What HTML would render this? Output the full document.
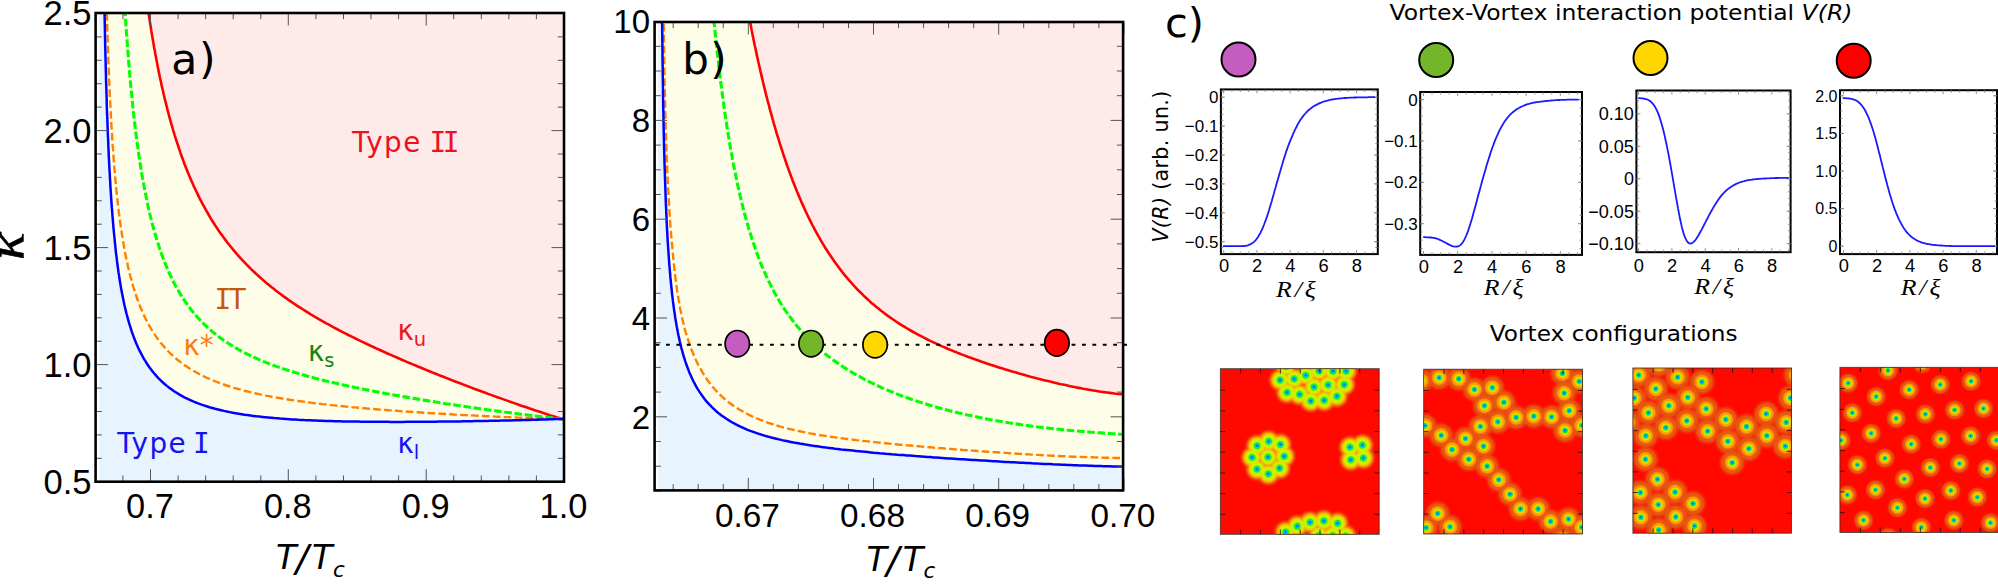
<!DOCTYPE html>
<html><head><meta charset="utf-8"><title>Phase diagram</title>
<style>
html,body{margin:0;padding:0;background:#fff;}
svg{display:block}
.ar{font-family:"Liberation Sans",sans-serif;}
.vd{font-family:"DejaVu Sans","Liberation Sans",sans-serif;}
.mn{font-family:"DejaVu Sans Mono","Liberation Mono",monospace;}
.sr{font-family:"Liberation Serif","DejaVu Serif",serif;font-style:italic;}
</style></head><body>
<svg width="1998" height="585" viewBox="0 0 1998 585">
<rect width="1998" height="585" fill="#fff"/>

<clipPath id="clipa"><rect x="95.6" y="13.0" width="468.4" height="468.7"/></clipPath>
<g clip-path="url(#clipa)">
<rect x="95.6" y="13.0" width="468.4" height="468.7" fill="#fefee8"/>
<path d="M103.3 -73.9 L103.3 -71.0 L103.4 -68.0 L103.4 -65.0 L103.4 -62.0 L103.5 -59.0 L103.5 -56.0 L103.6 -53.0 L103.6 -50.0 L103.6 -47.0 L103.7 -44.0 L103.7 -41.0 L103.8 -38.0 L103.8 -35.0 L103.8 -32.0 L103.9 -29.0 L103.9 -26.0 L104.0 -23.0 L104.0 -20.0 L104.1 -17.1 L104.1 -14.1 L104.2 -11.1 L104.2 -8.1 L104.3 -5.1 L104.3 -2.1 L104.4 0.9 L104.4 3.9 L104.5 6.9 L104.5 9.9 L104.6 12.9 L104.6 15.9 L104.7 18.9 L104.7 21.9 L104.8 24.9 L104.9 27.9 L104.9 30.9 L105.0 33.8 L105.0 36.8 L105.1 39.8 L105.2 42.8 L105.2 45.8 L105.3 48.8 L105.4 51.8 L105.4 54.8 L105.5 57.8 L105.6 60.8 L105.7 63.8 L105.7 66.8 L105.8 69.8 L105.9 72.8 L106.0 75.8 L106.0 78.8 L106.1 81.7 L106.2 84.7 L106.3 87.7 L106.4 90.7 L106.5 93.7 L106.6 96.7 L106.7 99.7 L106.7 102.7 L106.8 105.7 L106.9 108.7 L107.0 111.7 L107.1 114.7 L107.3 117.7 L107.4 120.7 L107.5 123.6 L107.6 126.6 L107.7 129.6 L107.8 132.6 L107.9 135.6 L108.1 138.6 L108.2 141.6 L108.3 144.6 L108.4 147.6 L108.6 150.6 L108.7 153.6 L108.8 156.6 L109.0 159.6 L109.1 162.5 L109.3 165.5 L109.4 168.5 L109.6 171.5 L109.8 174.5 L109.9 177.5 L110.1 180.5 L110.3 183.5 L110.4 186.5 L110.6 189.5 L110.8 192.4 L111.0 195.4 L111.2 198.4 L111.4 201.4 L111.6 204.4 L111.8 207.4 L112.1 210.4 L112.3 213.4 L112.5 216.3 L112.8 219.3 L113.0 222.3 L113.3 225.3 L113.5 228.3 L113.8 231.3 L114.1 234.2 L114.4 237.2 L114.7 240.2 L115.0 243.2 L115.3 246.2 L115.6 249.1 L115.9 252.1 L116.3 255.1 L116.7 258.1 L117.0 261.0 L117.4 264.0 L117.8 267.0 L118.2 269.9 L118.6 272.9 L119.1 275.9 L119.5 278.8 L120.0 281.8 L120.5 284.7 L121.0 287.7 L121.5 290.6 L122.1 293.6 L122.7 296.5 L123.3 299.4 L123.9 302.4 L124.5 305.3 L125.2 308.2 L125.9 311.1 L126.6 314.0 L127.4 316.9 L128.2 319.8 L129.0 322.7 L129.9 325.6 L130.8 328.4 L131.7 331.3 L132.7 334.1 L133.7 336.9 L134.8 339.7 L135.9 342.5 L137.1 345.2 L138.3 348.0 L139.6 350.7 L141.0 353.3 L142.4 356.0 L143.8 358.6 L145.4 361.2 L147.0 363.7 L148.7 366.2 L150.4 368.6 L152.2 371.0 L154.1 373.3 L156.1 375.6 L158.1 377.8 L160.2 379.9 L162.4 382.0 L164.6 384.0 L166.9 385.9 L169.2 387.7 L171.7 389.5 L174.1 391.2 L176.6 392.8 L179.2 394.4 L181.8 395.9 L184.4 397.3 L187.1 398.6 L189.8 399.9 L192.6 401.1 L195.3 402.3 L198.1 403.3 L200.9 404.4 L203.8 405.4 L206.6 406.3 L209.5 407.2 L212.4 408.0 L215.2 408.8 L218.1 409.5 L221.1 410.2 L224.0 410.9 L226.9 411.5 L229.8 412.1 L232.8 412.7 L235.7 413.2 L238.7 413.7 L241.6 414.2 L244.6 414.7 L247.6 415.1 L250.5 415.5 L253.5 415.9 L256.5 416.3 L259.4 416.6 L262.4 416.9 L265.4 417.2 L268.4 417.5 L271.3 417.8 L274.3 418.1 L277.3 418.3 L280.3 418.6 L283.3 418.8 L286.3 419.0 L289.3 419.2 L292.3 419.4 L295.2 419.6 L298.2 419.8 L301.2 419.9 L304.2 420.1 L307.2 420.2 L310.2 420.3 L313.2 420.5 L316.2 420.6 L319.2 420.7 L322.2 420.8 L325.2 420.9 L328.1 421.0 L331.1 421.1 L334.1 421.2 L337.1 421.2 L340.1 421.3 L343.1 421.4 L346.1 421.4 L349.1 421.5 L352.1 421.5 L355.1 421.6 L358.1 421.6 L361.1 421.7 L364.1 421.7 L367.1 421.7 L370.1 421.8 L373.1 421.8 L376.1 421.8 L379.0 421.8 L382.0 421.8 L385.0 421.8 L388.0 421.8 L391.0 421.9 L394.0 421.9 L397.0 421.9 L400.0 421.9 L403.0 421.9 L406.0 421.8 L409.0 421.8 L412.0 421.8 L415.0 421.8 L418.0 421.8 L421.0 421.8 L424.0 421.8 L427.0 421.7 L430.0 421.7 L433.0 421.7 L435.9 421.7 L438.9 421.6 L441.9 421.6 L444.9 421.6 L447.9 421.5 L450.9 421.5 L453.9 421.4 L456.9 421.4 L459.9 421.4 L462.9 421.3 L465.9 421.3 L468.9 421.2 L471.9 421.2 L474.9 421.1 L477.9 421.1 L480.9 421.0 L483.9 421.0 L486.8 420.9 L489.8 420.8 L492.8 420.8 L495.8 420.7 L498.8 420.7 L501.8 420.6 L504.8 420.5 L507.8 420.4 L510.8 420.4 L513.8 420.3 L516.8 420.2 L519.8 420.2 L522.8 420.1 L525.8 420.0 L528.8 419.9 L531.8 419.8 L534.7 419.7 L537.7 419.7 L540.7 419.6 L543.7 419.5 L546.7 419.4 L549.7 419.3 L552.7 419.2 L555.7 419.1 L558.7 419.0 L561.7 418.9 L564.7 418.8 L569.0 418.8 L569.0 486.7 L90.6 486.7 L90.6 -47.0 L103.3 -47.0 Z" fill="#e7f3fd"/>
<path d="M138.1 -73.9 L138.4 -70.9 L138.7 -67.9 L139.0 -64.9 L139.3 -61.9 L139.6 -59.0 L139.9 -56.0 L140.2 -53.0 L140.6 -50.0 L140.9 -47.0 L141.2 -44.1 L141.6 -41.1 L141.9 -38.1 L142.3 -35.1 L142.6 -32.2 L143.0 -29.2 L143.3 -26.2 L143.7 -23.2 L144.1 -20.3 L144.4 -17.3 L144.8 -14.3 L145.2 -11.3 L145.6 -8.4 L146.0 -5.4 L146.4 -2.4 L146.8 0.5 L147.2 3.5 L147.6 6.5 L148.1 9.4 L148.5 12.4 L148.9 15.4 L149.4 18.3 L149.8 21.3 L150.3 24.2 L150.8 27.2 L151.2 30.2 L151.7 33.1 L152.2 36.1 L152.7 39.0 L153.2 42.0 L153.7 44.9 L154.2 47.9 L154.8 50.8 L155.3 53.8 L155.9 56.7 L156.4 59.7 L157.0 62.6 L157.5 65.5 L158.1 68.5 L158.7 71.4 L159.3 74.4 L159.9 77.3 L160.6 80.2 L161.2 83.1 L161.8 86.1 L162.5 89.0 L163.2 91.9 L163.8 94.8 L164.5 97.7 L165.2 100.7 L166.0 103.6 L166.7 106.5 L167.4 109.4 L168.2 112.3 L168.9 115.2 L169.7 118.1 L170.5 120.9 L171.3 123.8 L172.2 126.7 L173.0 129.6 L173.9 132.5 L174.7 135.3 L175.6 138.2 L176.5 141.0 L177.5 143.9 L178.4 146.7 L179.4 149.6 L180.3 152.4 L181.3 155.2 L182.3 158.0 L183.4 160.9 L184.4 163.7 L185.5 166.5 L186.6 169.2 L187.7 172.0 L188.9 174.8 L190.0 177.6 L191.2 180.3 L192.4 183.1 L193.6 185.8 L194.9 188.5 L196.2 191.2 L197.5 193.9 L198.8 196.6 L200.1 199.3 L201.5 201.9 L202.9 204.6 L204.4 207.2 L205.8 209.8 L207.3 212.4 L208.8 215.0 L210.3 217.6 L211.9 220.2 L213.5 222.7 L215.1 225.2 L216.8 227.7 L218.4 230.2 L220.1 232.7 L221.9 235.1 L223.6 237.5 L225.4 239.9 L227.2 242.3 L229.1 244.7 L231.0 247.0 L232.9 249.3 L234.8 251.6 L236.7 253.9 L238.7 256.1 L240.7 258.4 L242.8 260.6 L244.8 262.7 L246.9 264.9 L249.0 267.0 L251.1 269.1 L253.3 271.2 L255.5 273.3 L257.7 275.3 L259.9 277.3 L262.1 279.3 L264.4 281.2 L266.7 283.2 L269.0 285.1 L271.3 287.0 L273.7 288.8 L276.0 290.7 L278.4 292.5 L280.8 294.3 L283.2 296.1 L285.7 297.8 L288.1 299.6 L290.6 301.3 L293.0 303.0 L295.5 304.6 L298.0 306.3 L300.5 307.9 L303.1 309.5 L305.6 311.1 L308.1 312.7 L310.7 314.3 L313.3 315.8 L315.8 317.3 L318.4 318.8 L321.0 320.3 L323.6 321.8 L326.2 323.3 L328.9 324.7 L331.5 326.2 L334.1 327.6 L336.8 329.0 L339.4 330.4 L342.1 331.8 L344.7 333.1 L347.4 334.5 L350.1 335.8 L352.8 337.2 L355.5 338.5 L358.2 339.8 L360.8 341.1 L363.5 342.4 L366.3 343.7 L369.0 345.0 L371.7 346.3 L374.4 347.5 L377.1 348.8 L379.8 350.0 L382.6 351.3 L385.3 352.5 L388.0 353.7 L390.8 354.9 L393.5 356.1 L396.3 357.3 L399.0 358.5 L401.8 359.7 L404.5 360.9 L407.3 362.1 L410.0 363.2 L412.8 364.4 L415.6 365.5 L418.3 366.7 L421.1 367.8 L423.9 369.0 L426.6 370.1 L429.4 371.2 L432.2 372.4 L435.0 373.5 L437.7 374.6 L440.5 375.7 L443.3 376.8 L446.1 377.9 L448.9 379.0 L451.7 380.1 L454.5 381.2 L457.3 382.3 L460.1 383.3 L462.9 384.4 L465.7 385.5 L468.5 386.5 L471.3 387.6 L474.1 388.7 L476.9 389.7 L479.7 390.7 L482.5 391.8 L485.3 392.8 L488.1 393.9 L490.9 394.9 L493.7 395.9 L496.6 396.9 L499.4 397.9 L502.2 398.9 L505.0 399.9 L507.8 400.9 L510.7 401.9 L513.5 402.9 L516.3 403.9 L519.2 404.9 L522.0 405.9 L524.8 406.8 L527.7 407.8 L530.5 408.8 L533.3 409.7 L536.2 410.7 L539.0 411.6 L541.9 412.6 L544.7 413.5 L547.6 414.4 L550.4 415.4 L553.3 416.3 L556.1 417.2 L559.0 418.1 L561.8 419.0 L564.7 419.9 L569.0 419.9 L569.0 -47.0 L138.1 -47.0 Z" fill="#ffeaea"/>
<rect x="95.6" y="13.0" width="3.7" height="468.7" fill="#fff"/>
<path d="M138.1 -73.9 L138.4 -70.9 L138.7 -67.9 L139.0 -64.9 L139.3 -61.9 L139.6 -59.0 L139.9 -56.0 L140.2 -53.0 L140.6 -50.0 L140.9 -47.0 L141.2 -44.1 L141.6 -41.1 L141.9 -38.1 L142.3 -35.1 L142.6 -32.2 L143.0 -29.2 L143.3 -26.2 L143.7 -23.2 L144.1 -20.3 L144.4 -17.3 L144.8 -14.3 L145.2 -11.3 L145.6 -8.4 L146.0 -5.4 L146.4 -2.4 L146.8 0.5 L147.2 3.5 L147.6 6.5 L148.1 9.4 L148.5 12.4 L148.9 15.4 L149.4 18.3 L149.8 21.3 L150.3 24.2 L150.8 27.2 L151.2 30.2 L151.7 33.1 L152.2 36.1 L152.7 39.0 L153.2 42.0 L153.7 44.9 L154.2 47.9 L154.8 50.8 L155.3 53.8 L155.9 56.7 L156.4 59.7 L157.0 62.6 L157.5 65.5 L158.1 68.5 L158.7 71.4 L159.3 74.4 L159.9 77.3 L160.6 80.2 L161.2 83.1 L161.8 86.1 L162.5 89.0 L163.2 91.9 L163.8 94.8 L164.5 97.7 L165.2 100.7 L166.0 103.6 L166.7 106.5 L167.4 109.4 L168.2 112.3 L168.9 115.2 L169.7 118.1 L170.5 120.9 L171.3 123.8 L172.2 126.7 L173.0 129.6 L173.9 132.5 L174.7 135.3 L175.6 138.2 L176.5 141.0 L177.5 143.9 L178.4 146.7 L179.4 149.6 L180.3 152.4 L181.3 155.2 L182.3 158.0 L183.4 160.9 L184.4 163.7 L185.5 166.5 L186.6 169.2 L187.7 172.0 L188.9 174.8 L190.0 177.6 L191.2 180.3 L192.4 183.1 L193.6 185.8 L194.9 188.5 L196.2 191.2 L197.5 193.9 L198.8 196.6 L200.1 199.3 L201.5 201.9 L202.9 204.6 L204.4 207.2 L205.8 209.8 L207.3 212.4 L208.8 215.0 L210.3 217.6 L211.9 220.2 L213.5 222.7 L215.1 225.2 L216.8 227.7 L218.4 230.2 L220.1 232.7 L221.9 235.1 L223.6 237.5 L225.4 239.9 L227.2 242.3 L229.1 244.7 L231.0 247.0 L232.9 249.3 L234.8 251.6 L236.7 253.9 L238.7 256.1 L240.7 258.4 L242.8 260.6 L244.8 262.7 L246.9 264.9 L249.0 267.0 L251.1 269.1 L253.3 271.2 L255.5 273.3 L257.7 275.3 L259.9 277.3 L262.1 279.3 L264.4 281.2 L266.7 283.2 L269.0 285.1 L271.3 287.0 L273.7 288.8 L276.0 290.7 L278.4 292.5 L280.8 294.3 L283.2 296.1 L285.7 297.8 L288.1 299.6 L290.6 301.3 L293.0 303.0 L295.5 304.6 L298.0 306.3 L300.5 307.9 L303.1 309.5 L305.6 311.1 L308.1 312.7 L310.7 314.3 L313.3 315.8 L315.8 317.3 L318.4 318.8 L321.0 320.3 L323.6 321.8 L326.2 323.3 L328.9 324.7 L331.5 326.2 L334.1 327.6 L336.8 329.0 L339.4 330.4 L342.1 331.8 L344.7 333.1 L347.4 334.5 L350.1 335.8 L352.8 337.2 L355.5 338.5 L358.2 339.8 L360.8 341.1 L363.5 342.4 L366.3 343.7 L369.0 345.0 L371.7 346.3 L374.4 347.5 L377.1 348.8 L379.8 350.0 L382.6 351.3 L385.3 352.5 L388.0 353.7 L390.8 354.9 L393.5 356.1 L396.3 357.3 L399.0 358.5 L401.8 359.7 L404.5 360.9 L407.3 362.1 L410.0 363.2 L412.8 364.4 L415.6 365.5 L418.3 366.7 L421.1 367.8 L423.9 369.0 L426.6 370.1 L429.4 371.2 L432.2 372.4 L435.0 373.5 L437.7 374.6 L440.5 375.7 L443.3 376.8 L446.1 377.9 L448.9 379.0 L451.7 380.1 L454.5 381.2 L457.3 382.3 L460.1 383.3 L462.9 384.4 L465.7 385.5 L468.5 386.5 L471.3 387.6 L474.1 388.7 L476.9 389.7 L479.7 390.7 L482.5 391.8 L485.3 392.8 L488.1 393.9 L490.9 394.9 L493.7 395.9 L496.6 396.9 L499.4 397.9 L502.2 398.9 L505.0 399.9 L507.8 400.9 L510.7 401.9 L513.5 402.9 L516.3 403.9 L519.2 404.9 L522.0 405.9 L524.8 406.8 L527.7 407.8 L530.5 408.8 L533.3 409.7 L536.2 410.7 L539.0 411.6 L541.9 412.6 L544.7 413.5 L547.6 414.4 L550.4 415.4 L553.3 416.3 L556.1 417.2 L559.0 418.1 L561.8 419.0 L564.7 419.9" fill="none" stroke="#ff0000" stroke-width="2.6"/>
<path d="M120.6 -73.8 L120.7 -70.8 L120.9 -67.8 L121.0 -64.9 L121.1 -61.9 L121.3 -58.9 L121.4 -55.9 L121.5 -52.9 L121.7 -49.9 L121.8 -46.9 L122.0 -44.0 L122.1 -41.0 L122.3 -38.0 L122.4 -35.0 L122.6 -32.0 L122.7 -29.0 L122.9 -26.0 L123.1 -23.1 L123.2 -20.1 L123.4 -17.1 L123.5 -14.1 L123.7 -11.1 L123.9 -8.1 L124.1 -5.1 L124.2 -2.2 L124.4 0.8 L124.6 3.8 L124.8 6.8 L125.0 9.8 L125.1 12.8 L125.3 15.7 L125.5 18.7 L125.7 21.7 L125.9 24.7 L126.1 27.7 L126.3 30.6 L126.5 33.6 L126.8 36.6 L127.0 39.6 L127.2 42.6 L127.4 45.6 L127.6 48.5 L127.9 51.5 L128.1 54.5 L128.3 57.5 L128.6 60.5 L128.8 63.4 L129.1 66.4 L129.3 69.4 L129.6 72.4 L129.8 75.3 L130.1 78.3 L130.4 81.3 L130.6 84.3 L130.9 87.3 L131.2 90.2 L131.5 93.2 L131.8 96.2 L132.1 99.2 L132.4 102.1 L132.7 105.1 L133.0 108.1 L133.3 111.0 L133.6 114.0 L134.0 117.0 L134.3 120.0 L134.7 122.9 L135.0 125.9 L135.4 128.9 L135.7 131.8 L136.1 134.8 L136.5 137.8 L136.9 140.7 L137.3 143.7 L137.7 146.6 L138.1 149.6 L138.5 152.6 L138.9 155.5 L139.4 158.5 L139.8 161.4 L140.3 164.4 L140.8 167.3 L141.2 170.3 L141.7 173.2 L142.2 176.2 L142.7 179.1 L143.3 182.1 L143.8 185.0 L144.4 188.0 L144.9 190.9 L145.5 193.8 L146.1 196.7 L146.7 199.7 L147.3 202.6 L147.9 205.5 L148.6 208.4 L149.3 211.4 L149.9 214.3 L150.6 217.2 L151.4 220.1 L152.1 223.0 L152.9 225.9 L153.6 228.7 L154.4 231.6 L155.3 234.5 L156.1 237.4 L157.0 240.2 L157.9 243.1 L158.8 245.9 L159.7 248.8 L160.7 251.6 L161.7 254.4 L162.8 257.2 L163.8 260.0 L164.9 262.8 L166.0 265.5 L167.2 268.3 L168.4 271.0 L169.6 273.8 L170.9 276.5 L172.2 279.2 L173.5 281.8 L174.9 284.5 L176.3 287.1 L177.8 289.7 L179.3 292.3 L180.8 294.9 L182.4 297.4 L184.1 299.9 L185.7 302.4 L187.5 304.8 L189.3 307.2 L191.1 309.6 L192.9 311.9 L194.9 314.2 L196.8 316.5 L198.8 318.7 L200.9 320.9 L203.0 323.0 L205.1 325.1 L207.3 327.1 L209.5 329.1 L211.7 331.1 L214.0 333.0 L216.4 334.9 L218.7 336.7 L221.2 338.5 L223.6 340.2 L226.1 341.9 L228.6 343.5 L231.1 345.1 L233.6 346.7 L236.2 348.2 L238.8 349.7 L241.4 351.1 L244.1 352.5 L246.7 353.8 L249.4 355.2 L252.1 356.5 L254.8 357.7 L257.6 358.9 L260.3 360.1 L263.1 361.3 L265.8 362.4 L268.6 363.5 L271.4 364.5 L274.2 365.6 L277.0 366.6 L279.8 367.6 L282.7 368.6 L285.5 369.5 L288.4 370.4 L291.2 371.3 L294.1 372.2 L296.9 373.1 L299.8 373.9 L302.7 374.8 L305.5 375.6 L308.4 376.4 L311.3 377.2 L314.2 377.9 L317.1 378.7 L320.0 379.4 L322.9 380.2 L325.8 380.9 L328.7 381.6 L331.6 382.3 L334.5 382.9 L337.4 383.6 L340.3 384.3 L343.2 384.9 L346.2 385.6 L349.1 386.2 L352.0 386.8 L354.9 387.5 L357.9 388.1 L360.8 388.7 L363.7 389.3 L366.6 389.8 L369.6 390.4 L372.5 391.0 L375.4 391.6 L378.4 392.1 L381.3 392.7 L384.3 393.2 L387.2 393.8 L390.1 394.3 L393.1 394.8 L396.0 395.4 L399.0 395.9 L401.9 396.4 L404.8 396.9 L407.8 397.4 L410.7 397.9 L413.7 398.4 L416.6 398.9 L419.6 399.4 L422.5 399.9 L425.5 400.4 L428.4 400.9 L431.4 401.4 L434.3 401.8 L437.3 402.3 L440.2 402.8 L443.2 403.2 L446.1 403.7 L449.1 404.1 L452.1 404.6 L455.0 405.0 L458.0 405.5 L460.9 405.9 L463.9 406.4 L466.8 406.8 L469.8 407.2 L472.8 407.7 L475.7 408.1 L478.7 408.5 L481.6 408.9 L484.6 409.3 L487.5 409.8 L490.5 410.2 L493.5 410.6 L496.4 411.0 L499.4 411.4 L502.4 411.8 L505.3 412.2 L508.3 412.5 L511.2 412.9 L514.2 413.3 L517.2 413.7 L520.1 414.1 L523.1 414.4 L526.1 414.8 L529.0 415.2 L532.0 415.5 L535.0 415.9 L537.9 416.2 L540.9 416.6 L543.9 416.9 L546.9 417.3 L549.8 417.6 L552.8 417.9 L555.8 418.3 L558.7 418.6 L561.7 418.9 L564.7 419.2" fill="none" stroke="#00ff00" stroke-width="3.1" stroke-dasharray="7.6 2.7"/>
<path d="M104.9 -74.1 L105.0 -71.1 L105.0 -68.1 L105.1 -65.1 L105.1 -62.1 L105.2 -59.1 L105.3 -56.1 L105.3 -53.1 L105.4 -50.1 L105.4 -47.1 L105.5 -44.1 L105.6 -41.1 L105.6 -38.1 L105.7 -35.1 L105.7 -32.1 L105.8 -29.1 L105.9 -26.1 L105.9 -23.1 L106.0 -20.1 L106.1 -17.1 L106.2 -14.1 L106.2 -11.1 L106.3 -8.1 L106.4 -5.1 L106.5 -2.1 L106.5 0.9 L106.6 3.9 L106.7 6.9 L106.8 9.9 L106.9 12.8 L106.9 15.8 L107.0 18.8 L107.1 21.8 L107.2 24.8 L107.3 27.8 L107.4 30.8 L107.5 33.8 L107.6 36.8 L107.7 39.8 L107.8 42.8 L107.9 45.8 L108.0 48.8 L108.1 51.8 L108.2 54.8 L108.3 57.8 L108.4 60.8 L108.5 63.8 L108.6 66.8 L108.8 69.8 L108.9 72.8 L109.0 75.8 L109.1 78.8 L109.2 81.8 L109.4 84.8 L109.5 87.8 L109.6 90.8 L109.8 93.8 L109.9 96.8 L110.1 99.8 L110.2 102.8 L110.4 105.8 L110.5 108.7 L110.7 111.7 L110.8 114.7 L111.0 117.7 L111.2 120.7 L111.3 123.7 L111.5 126.7 L111.7 129.7 L111.9 132.7 L112.1 135.7 L112.2 138.7 L112.4 141.7 L112.6 144.7 L112.9 147.7 L113.1 150.7 L113.3 153.7 L113.5 156.6 L113.7 159.6 L114.0 162.6 L114.2 165.6 L114.4 168.6 L114.7 171.6 L114.9 174.6 L115.2 177.6 L115.5 180.6 L115.8 183.5 L116.0 186.5 L116.3 189.5 L116.6 192.5 L117.0 195.5 L117.3 198.5 L117.6 201.4 L117.9 204.4 L118.3 207.4 L118.6 210.4 L119.0 213.4 L119.4 216.3 L119.8 219.3 L120.2 222.3 L120.6 225.2 L121.0 228.2 L121.5 231.2 L121.9 234.1 L122.4 237.1 L122.9 240.1 L123.4 243.0 L123.9 246.0 L124.4 248.9 L125.0 251.9 L125.5 254.8 L126.1 257.8 L126.7 260.7 L127.4 263.6 L128.0 266.6 L128.7 269.5 L129.4 272.4 L130.1 275.3 L130.9 278.2 L131.7 281.1 L132.5 284.0 L133.3 286.9 L134.2 289.7 L135.1 292.6 L136.1 295.4 L137.0 298.3 L138.1 301.1 L139.1 303.9 L140.2 306.7 L141.4 309.5 L142.6 312.2 L143.8 314.9 L145.1 317.7 L146.4 320.3 L147.8 323.0 L149.2 325.6 L150.7 328.2 L152.3 330.8 L153.9 333.3 L155.6 335.8 L157.3 338.3 L159.1 340.7 L160.9 343.0 L162.9 345.3 L164.8 347.6 L166.8 349.8 L168.9 352.0 L171.1 354.1 L173.3 356.1 L175.5 358.1 L177.8 360.0 L180.2 361.9 L182.6 363.7 L185.0 365.4 L187.5 367.1 L190.0 368.7 L192.6 370.3 L195.2 371.8 L197.8 373.3 L200.4 374.7 L203.1 376.0 L205.8 377.3 L208.6 378.5 L211.3 379.7 L214.1 380.9 L216.9 382.0 L219.7 383.0 L222.5 384.1 L225.3 385.0 L228.2 386.0 L231.0 386.9 L233.9 387.8 L236.8 388.6 L239.7 389.4 L242.6 390.2 L245.5 391.0 L248.4 391.7 L251.3 392.4 L254.2 393.1 L257.1 393.7 L260.1 394.4 L263.0 395.0 L265.9 395.6 L268.9 396.1 L271.8 396.7 L274.8 397.2 L277.7 397.8 L280.7 398.3 L283.7 398.8 L286.6 399.2 L289.6 399.7 L292.5 400.1 L295.5 400.6 L298.5 401.0 L301.4 401.4 L304.4 401.8 L307.4 402.2 L310.4 402.6 L313.3 403.0 L316.3 403.3 L319.3 403.7 L322.3 404.1 L325.3 404.4 L328.2 404.7 L331.2 405.1 L334.2 405.4 L337.2 405.7 L340.2 406.0 L343.2 406.3 L346.1 406.6 L349.1 406.9 L352.1 407.2 L355.1 407.4 L358.1 407.7 L361.1 408.0 L364.1 408.2 L367.0 408.5 L370.0 408.7 L373.0 409.0 L376.0 409.2 L379.0 409.5 L382.0 409.7 L385.0 409.9 L388.0 410.2 L391.0 410.4 L394.0 410.6 L396.9 410.8 L399.9 411.1 L402.9 411.3 L405.9 411.5 L408.9 411.7 L411.9 411.9 L414.9 412.1 L417.9 412.3 L420.9 412.5 L423.9 412.7 L426.9 412.9 L429.9 413.1 L432.9 413.2 L435.8 413.4 L438.8 413.6 L441.8 413.8 L444.8 414.0 L447.8 414.1 L450.8 414.3 L453.8 414.5 L456.8 414.6 L459.8 414.8 L462.8 415.0 L465.8 415.1 L468.8 415.3 L471.8 415.4 L474.8 415.6 L477.8 415.7 L480.8 415.9 L483.8 416.0 L486.8 416.2 L489.8 416.3 L492.7 416.4 L495.7 416.6 L498.7 416.7 L501.7 416.8 L504.7 417.0 L507.7 417.1 L510.7 417.2 L513.7 417.3 L516.7 417.5 L519.7 417.6 L522.7 417.7 L525.7 417.8 L528.7 417.9 L531.7 418.0 L534.7 418.1 L537.7 418.2 L540.7 418.3 L543.7 418.4 L546.7 418.5 L549.7 418.6 L552.7 418.7 L555.7 418.8 L558.7 418.9 L561.7 419.0 L564.7 419.0" fill="none" stroke="#ff8000" stroke-width="2.4" stroke-dasharray="7.7 3.2"/>
<path d="M103.3 -73.9 L103.3 -71.0 L103.4 -68.0 L103.4 -65.0 L103.4 -62.0 L103.5 -59.0 L103.5 -56.0 L103.6 -53.0 L103.6 -50.0 L103.6 -47.0 L103.7 -44.0 L103.7 -41.0 L103.8 -38.0 L103.8 -35.0 L103.8 -32.0 L103.9 -29.0 L103.9 -26.0 L104.0 -23.0 L104.0 -20.0 L104.1 -17.1 L104.1 -14.1 L104.2 -11.1 L104.2 -8.1 L104.3 -5.1 L104.3 -2.1 L104.4 0.9 L104.4 3.9 L104.5 6.9 L104.5 9.9 L104.6 12.9 L104.6 15.9 L104.7 18.9 L104.7 21.9 L104.8 24.9 L104.9 27.9 L104.9 30.9 L105.0 33.8 L105.0 36.8 L105.1 39.8 L105.2 42.8 L105.2 45.8 L105.3 48.8 L105.4 51.8 L105.4 54.8 L105.5 57.8 L105.6 60.8 L105.7 63.8 L105.7 66.8 L105.8 69.8 L105.9 72.8 L106.0 75.8 L106.0 78.8 L106.1 81.7 L106.2 84.7 L106.3 87.7 L106.4 90.7 L106.5 93.7 L106.6 96.7 L106.7 99.7 L106.7 102.7 L106.8 105.7 L106.9 108.7 L107.0 111.7 L107.1 114.7 L107.3 117.7 L107.4 120.7 L107.5 123.6 L107.6 126.6 L107.7 129.6 L107.8 132.6 L107.9 135.6 L108.1 138.6 L108.2 141.6 L108.3 144.6 L108.4 147.6 L108.6 150.6 L108.7 153.6 L108.8 156.6 L109.0 159.6 L109.1 162.5 L109.3 165.5 L109.4 168.5 L109.6 171.5 L109.8 174.5 L109.9 177.5 L110.1 180.5 L110.3 183.5 L110.4 186.5 L110.6 189.5 L110.8 192.4 L111.0 195.4 L111.2 198.4 L111.4 201.4 L111.6 204.4 L111.8 207.4 L112.1 210.4 L112.3 213.4 L112.5 216.3 L112.8 219.3 L113.0 222.3 L113.3 225.3 L113.5 228.3 L113.8 231.3 L114.1 234.2 L114.4 237.2 L114.7 240.2 L115.0 243.2 L115.3 246.2 L115.6 249.1 L115.9 252.1 L116.3 255.1 L116.7 258.1 L117.0 261.0 L117.4 264.0 L117.8 267.0 L118.2 269.9 L118.6 272.9 L119.1 275.9 L119.5 278.8 L120.0 281.8 L120.5 284.7 L121.0 287.7 L121.5 290.6 L122.1 293.6 L122.7 296.5 L123.3 299.4 L123.9 302.4 L124.5 305.3 L125.2 308.2 L125.9 311.1 L126.6 314.0 L127.4 316.9 L128.2 319.8 L129.0 322.7 L129.9 325.6 L130.8 328.4 L131.7 331.3 L132.7 334.1 L133.7 336.9 L134.8 339.7 L135.9 342.5 L137.1 345.2 L138.3 348.0 L139.6 350.7 L141.0 353.3 L142.4 356.0 L143.8 358.6 L145.4 361.2 L147.0 363.7 L148.7 366.2 L150.4 368.6 L152.2 371.0 L154.1 373.3 L156.1 375.6 L158.1 377.8 L160.2 379.9 L162.4 382.0 L164.6 384.0 L166.9 385.9 L169.2 387.7 L171.7 389.5 L174.1 391.2 L176.6 392.8 L179.2 394.4 L181.8 395.9 L184.4 397.3 L187.1 398.6 L189.8 399.9 L192.6 401.1 L195.3 402.3 L198.1 403.3 L200.9 404.4 L203.8 405.4 L206.6 406.3 L209.5 407.2 L212.4 408.0 L215.2 408.8 L218.1 409.5 L221.1 410.2 L224.0 410.9 L226.9 411.5 L229.8 412.1 L232.8 412.7 L235.7 413.2 L238.7 413.7 L241.6 414.2 L244.6 414.7 L247.6 415.1 L250.5 415.5 L253.5 415.9 L256.5 416.3 L259.4 416.6 L262.4 416.9 L265.4 417.2 L268.4 417.5 L271.3 417.8 L274.3 418.1 L277.3 418.3 L280.3 418.6 L283.3 418.8 L286.3 419.0 L289.3 419.2 L292.3 419.4 L295.2 419.6 L298.2 419.8 L301.2 419.9 L304.2 420.1 L307.2 420.2 L310.2 420.3 L313.2 420.5 L316.2 420.6 L319.2 420.7 L322.2 420.8 L325.2 420.9 L328.1 421.0 L331.1 421.1 L334.1 421.2 L337.1 421.2 L340.1 421.3 L343.1 421.4 L346.1 421.4 L349.1 421.5 L352.1 421.5 L355.1 421.6 L358.1 421.6 L361.1 421.7 L364.1 421.7 L367.1 421.7 L370.1 421.8 L373.1 421.8 L376.1 421.8 L379.0 421.8 L382.0 421.8 L385.0 421.8 L388.0 421.8 L391.0 421.9 L394.0 421.9 L397.0 421.9 L400.0 421.9 L403.0 421.9 L406.0 421.8 L409.0 421.8 L412.0 421.8 L415.0 421.8 L418.0 421.8 L421.0 421.8 L424.0 421.8 L427.0 421.7 L430.0 421.7 L433.0 421.7 L435.9 421.7 L438.9 421.6 L441.9 421.6 L444.9 421.6 L447.9 421.5 L450.9 421.5 L453.9 421.4 L456.9 421.4 L459.9 421.4 L462.9 421.3 L465.9 421.3 L468.9 421.2 L471.9 421.2 L474.9 421.1 L477.9 421.1 L480.9 421.0 L483.9 421.0 L486.8 420.9 L489.8 420.8 L492.8 420.8 L495.8 420.7 L498.8 420.7 L501.8 420.6 L504.8 420.5 L507.8 420.4 L510.8 420.4 L513.8 420.3 L516.8 420.2 L519.8 420.2 L522.8 420.1 L525.8 420.0 L528.8 419.9 L531.8 419.8 L534.7 419.7 L537.7 419.7 L540.7 419.6 L543.7 419.5 L546.7 419.4 L549.7 419.3 L552.7 419.2 L555.7 419.1 L558.7 419.0 L561.7 418.9 L564.7 418.8" fill="none" stroke="#0000ff" stroke-width="2.5"/>
</g>
<path d="M122.9 481.7 v-6.2 M122.9 13.0 v6.2 M150.5 481.7 v-12.5 M150.5 13.0 v12.5 M178.1 481.7 v-6.2 M178.1 13.0 v6.2 M205.6 481.7 v-6.2 M205.6 13.0 v6.2 M233.2 481.7 v-6.2 M233.2 13.0 v6.2 M260.8 481.7 v-6.2 M260.8 13.0 v6.2 M288.3 481.7 v-12.5 M288.3 13.0 v12.5 M315.9 481.7 v-6.2 M315.9 13.0 v6.2 M343.5 481.7 v-6.2 M343.5 13.0 v6.2 M371.0 481.7 v-6.2 M371.0 13.0 v6.2 M398.6 481.7 v-6.2 M398.6 13.0 v6.2 M426.2 481.7 v-12.5 M426.2 13.0 v12.5 M453.7 481.7 v-6.2 M453.7 13.0 v6.2 M481.3 481.7 v-6.2 M481.3 13.0 v6.2 M508.9 481.7 v-6.2 M508.9 13.0 v6.2 M536.4 481.7 v-6.2 M536.4 13.0 v6.2 M564.0 481.7 v-12.5 M564.0 13.0 v12.5 M95.6 481.7 h12.5 M564.0 481.7 h-12.5 M95.6 458.3 h6.2 M564.0 458.3 h-6.2 M95.6 434.9 h6.2 M564.0 434.9 h-6.2 M95.6 411.5 h6.2 M564.0 411.5 h-6.2 M95.6 388.1 h6.2 M564.0 388.1 h-6.2 M95.6 364.6 h12.5 M564.0 364.6 h-12.5 M95.6 341.2 h6.2 M564.0 341.2 h-6.2 M95.6 317.8 h6.2 M564.0 317.8 h-6.2 M95.6 294.4 h6.2 M564.0 294.4 h-6.2 M95.6 271.0 h6.2 M564.0 271.0 h-6.2 M95.6 247.6 h12.5 M564.0 247.6 h-12.5 M95.6 224.2 h6.2 M564.0 224.2 h-6.2 M95.6 200.8 h6.2 M564.0 200.8 h-6.2 M95.6 177.4 h6.2 M564.0 177.4 h-6.2 M95.6 154.0 h6.2 M564.0 154.0 h-6.2 M95.6 130.6 h12.5 M564.0 130.6 h-12.5 M95.6 107.1 h6.2 M564.0 107.1 h-6.2 M95.6 83.7 h6.2 M564.0 83.7 h-6.2 M95.6 60.3 h6.2 M564.0 60.3 h-6.2 M95.6 36.9 h6.2 M564.0 36.9 h-6.2 M95.6 13.5 h12.5 M564.0 13.5 h-12.5" stroke="#555" stroke-width="1" fill="none"/>
<rect x="95.6" y="13.0" width="468.4" height="468.7" fill="none" stroke="#000" stroke-width="2.6"/>
<text class="ar" x="91.6" y="25.4" font-size="34.6" text-anchor="end">2.5</text>
<text class="ar" x="91.6" y="142.5" font-size="34.6" text-anchor="end">2.0</text>
<text class="ar" x="91.6" y="259.5" font-size="34.6" text-anchor="end">1.5</text>
<text class="ar" x="91.6" y="376.5" font-size="34.6" text-anchor="end">1.0</text>
<text class="ar" x="91.6" y="493.6" font-size="34.6" text-anchor="end">0.5</text>
<text class="ar" x="150.0" y="518" font-size="34.4" text-anchor="middle">0.7</text>
<text class="ar" x="287.8" y="518" font-size="34.4" text-anchor="middle">0.8</text>
<text class="ar" x="425.7" y="518" font-size="34.4" text-anchor="middle">0.9</text>
<text class="ar" x="563.5" y="518" font-size="34.4" text-anchor="middle">1.0</text>
<text class="vd" x="276" y="569.4" font-size="33.5" font-style="italic">T<tspan font-size="38" dx="-0.6" dy="1.7">/</tspan><tspan dx="3.4" dy="-1.7">T</tspan><tspan font-size="21.5" dy="7.4" dx="0.4">c</tspan></text>
<text class="sr" transform="translate(23.3,259.9) rotate(-90) scale(1.15,1)" font-size="50" stroke="#000" stroke-width="0.5">κ</text>
<text class="vd" x="171.3" y="73.8" font-size="42.5" letter-spacing="1.6">a)</text>
<text class="vd" x="352" y="151.6" font-size="27.8" fill="#ee1020" letter-spacing="1.5">Type <tspan class="mn" dx="-2.6">I</tspan><tspan class="mn" dx="-5.2">I</tspan></text>
<text class="vd" x="117.3" y="453.3" font-size="27.8" fill="#1414ee" letter-spacing="1.5">Type <tspan class="mn" dx="-4.6">I</tspan></text>
<text class="vd" x="214.5" y="308.7" font-size="27.8" fill="#c8560c"><tspan class="mn">I</tspan><tspan dx="-2.6">T</tspan></text>
<text class="vd" x="183.5" y="354.6" font-size="27.5" fill="#ff7a08">κ*</text>
<text class="vd" x="308" y="361.2" font-size="27.5" fill="#148214">κ<tspan font-size="19.5" dy="6">s</tspan></text>
<text class="vd" x="397.6" y="340.4" font-size="27.5" fill="#f0141e">κ<tspan font-size="19.5" dy="6">u</tspan></text>
<text class="vd" x="397.6" y="453.3" font-size="27.5" fill="#1414ee">κ<tspan font-size="19.5" dy="6">l</tspan></text>
<clipPath id="clipb"><rect x="654.6" y="22.0" width="468.4999999999999" height="468.4"/></clipPath>
<g clip-path="url(#clipb)">
<rect x="654.6" y="22.0" width="468.4999999999999" height="468.4" fill="#fefee8"/>
<path d="M661.5 -52.5 L661.6 -49.5 L661.6 -46.5 L661.6 -43.5 L661.6 -40.5 L661.6 -37.5 L661.7 -34.5 L661.7 -31.5 L661.7 -28.5 L661.7 -25.6 L661.8 -22.6 L661.8 -19.6 L661.8 -16.6 L661.8 -13.6 L661.8 -10.6 L661.9 -7.6 L661.9 -4.6 L661.9 -1.6 L661.9 1.4 L662.0 4.4 L662.0 7.3 L662.0 10.3 L662.1 13.3 L662.1 16.3 L662.1 19.3 L662.1 22.3 L662.2 25.3 L662.2 28.3 L662.2 31.3 L662.3 34.3 L662.3 37.3 L662.3 40.3 L662.4 43.2 L662.4 46.2 L662.4 49.2 L662.5 52.2 L662.5 55.2 L662.5 58.2 L662.6 61.2 L662.6 64.2 L662.7 67.2 L662.7 70.2 L662.7 73.2 L662.8 76.1 L662.8 79.1 L662.9 82.1 L662.9 85.1 L663.0 88.1 L663.0 91.1 L663.0 94.1 L663.1 97.1 L663.1 100.1 L663.2 103.1 L663.2 106.1 L663.3 109.1 L663.4 112.0 L663.4 115.0 L663.5 118.0 L663.5 121.0 L663.6 124.0 L663.6 127.0 L663.7 130.0 L663.8 133.0 L663.8 136.0 L663.9 139.0 L664.0 142.0 L664.0 144.9 L664.1 147.9 L664.2 150.9 L664.3 153.9 L664.4 156.9 L664.4 159.9 L664.5 162.9 L664.6 165.9 L664.7 168.9 L664.8 171.9 L664.9 174.8 L665.0 177.8 L665.1 180.8 L665.2 183.8 L665.3 186.8 L665.4 189.8 L665.5 192.8 L665.6 195.8 L665.7 198.8 L665.8 201.8 L665.9 204.7 L666.1 207.7 L666.2 210.7 L666.3 213.7 L666.5 216.7 L666.6 219.7 L666.7 222.7 L666.9 225.7 L667.0 228.7 L667.2 231.6 L667.4 234.6 L667.5 237.6 L667.7 240.6 L667.9 243.6 L668.1 246.6 L668.3 249.6 L668.5 252.5 L668.7 255.5 L668.9 258.5 L669.1 261.5 L669.3 264.5 L669.6 267.5 L669.8 270.4 L670.1 273.4 L670.3 276.4 L670.6 279.4 L670.9 282.4 L671.2 285.3 L671.5 288.3 L671.8 291.3 L672.1 294.3 L672.5 297.2 L672.8 300.2 L673.2 303.2 L673.6 306.1 L674.0 309.1 L674.4 312.1 L674.9 315.0 L675.3 318.0 L675.8 320.9 L676.3 323.9 L676.8 326.8 L677.4 329.8 L677.9 332.7 L678.5 335.6 L679.2 338.6 L679.8 341.5 L680.5 344.4 L681.2 347.3 L682.0 350.2 L682.8 353.1 L683.6 355.9 L684.5 358.8 L685.4 361.7 L686.4 364.5 L687.4 367.3 L688.5 370.1 L689.6 372.9 L690.8 375.6 L692.0 378.3 L693.3 381.0 L694.7 383.7 L696.1 386.3 L697.6 388.9 L699.2 391.4 L700.9 393.9 L702.6 396.3 L704.4 398.7 L706.3 401.1 L708.3 403.3 L710.3 405.5 L712.4 407.6 L714.6 409.7 L716.8 411.7 L719.1 413.6 L721.5 415.4 L723.9 417.1 L726.4 418.8 L728.9 420.4 L731.5 422.0 L734.1 423.4 L736.8 424.8 L739.4 426.2 L742.1 427.4 L744.9 428.6 L747.6 429.8 L750.4 430.9 L753.2 431.9 L756.0 432.9 L758.9 433.9 L761.7 434.8 L764.6 435.6 L767.5 436.5 L770.4 437.3 L773.3 438.0 L776.2 438.7 L779.1 439.4 L782.0 440.1 L784.9 440.7 L787.8 441.3 L790.8 441.9 L793.7 442.5 L796.6 443.0 L799.6 443.6 L802.5 444.1 L805.5 444.6 L808.4 445.0 L811.4 445.5 L814.4 445.9 L817.3 446.3 L820.3 446.8 L823.3 447.2 L826.2 447.6 L829.2 447.9 L832.2 448.3 L835.1 448.7 L838.1 449.0 L841.1 449.4 L844.0 449.7 L847.0 450.0 L850.0 450.3 L853.0 450.6 L855.9 450.9 L858.9 451.2 L861.9 451.5 L864.9 451.8 L867.8 452.1 L870.8 452.4 L873.8 452.7 L876.8 452.9 L879.8 453.2 L882.7 453.4 L885.7 453.7 L888.7 453.9 L891.7 454.2 L894.7 454.4 L897.7 454.7 L900.6 454.9 L903.6 455.1 L906.6 455.4 L909.6 455.6 L912.6 455.8 L915.5 456.1 L918.5 456.3 L921.5 456.5 L924.5 456.7 L927.5 456.9 L930.5 457.1 L933.5 457.4 L936.4 457.6 L939.4 457.8 L942.4 458.0 L945.4 458.2 L948.4 458.4 L951.4 458.6 L954.3 458.8 L957.3 459.0 L960.3 459.2 L963.3 459.3 L966.3 459.5 L969.3 459.7 L972.3 459.9 L975.2 460.1 L978.2 460.3 L981.2 460.5 L984.2 460.6 L987.2 460.8 L990.2 461.0 L993.2 461.2 L996.1 461.3 L999.1 461.5 L1002.1 461.7 L1005.1 461.9 L1008.1 462.0 L1011.1 462.2 L1014.1 462.3 L1017.1 462.5 L1020.0 462.7 L1023.0 462.8 L1026.0 463.0 L1029.0 463.1 L1032.0 463.3 L1035.0 463.4 L1038.0 463.6 L1041.0 463.7 L1043.9 463.9 L1046.9 464.0 L1049.9 464.1 L1052.9 464.3 L1055.9 464.4 L1058.9 464.5 L1061.9 464.7 L1064.9 464.8 L1067.9 464.9 L1070.8 465.0 L1073.8 465.2 L1076.8 465.3 L1079.8 465.4 L1082.8 465.5 L1085.8 465.6 L1088.8 465.7 L1091.8 465.8 L1094.8 465.9 L1097.8 466.0 L1100.7 466.1 L1103.7 466.2 L1106.7 466.3 L1109.7 466.3 L1112.7 466.4 L1115.7 466.5 L1118.7 466.6 L1121.7 466.6 L1124.7 466.7 L1127.7 466.8 L1128.1 466.8 L1128.1 495.4 L649.6 495.4 L649.6 -38.0 L661.5 -38.0 Z" fill="#e7f3fd"/>
<path d="M737.2 -52.1 L737.6 -49.2 L738.1 -46.2 L738.6 -43.3 L739.0 -40.3 L739.5 -37.3 L740.0 -34.4 L740.5 -31.4 L741.0 -28.5 L741.5 -25.5 L742.0 -22.6 L742.5 -19.6 L743.0 -16.7 L743.5 -13.7 L744.0 -10.7 L744.5 -7.8 L745.1 -4.8 L745.6 -1.9 L746.1 1.1 L746.7 4.0 L747.2 6.9 L747.8 9.9 L748.3 12.8 L748.9 15.8 L749.4 18.7 L750.0 21.7 L750.6 24.6 L751.2 27.6 L751.7 30.5 L752.3 33.4 L752.9 36.4 L753.5 39.3 L754.1 42.2 L754.7 45.2 L755.4 48.1 L756.0 51.0 L756.6 54.0 L757.2 56.9 L757.9 59.8 L758.5 62.8 L759.2 65.7 L759.9 68.6 L760.5 71.5 L761.2 74.4 L761.9 77.4 L762.6 80.3 L763.3 83.2 L764.0 86.1 L764.7 89.0 L765.4 91.9 L766.1 94.8 L766.9 97.7 L767.6 100.6 L768.4 103.5 L769.2 106.4 L769.9 109.3 L770.7 112.2 L771.5 115.1 L772.3 118.0 L773.1 120.9 L773.9 123.8 L774.8 126.7 L775.6 129.5 L776.4 132.4 L777.3 135.3 L778.2 138.1 L779.1 141.0 L779.9 143.9 L780.9 146.7 L781.8 149.6 L782.7 152.4 L783.6 155.3 L784.6 158.1 L785.6 161.0 L786.5 163.8 L787.5 166.6 L788.5 169.4 L789.6 172.3 L790.6 175.1 L791.7 177.9 L792.7 180.7 L793.8 183.5 L794.9 186.3 L796.0 189.0 L797.1 191.8 L798.3 194.6 L799.5 197.4 L800.6 200.1 L801.8 202.9 L803.1 205.6 L804.3 208.3 L805.5 211.0 L806.8 213.8 L808.1 216.5 L809.4 219.1 L810.8 221.8 L812.1 224.5 L813.5 227.2 L814.9 229.8 L816.3 232.4 L817.8 235.1 L819.3 237.7 L820.8 240.3 L822.3 242.9 L823.8 245.4 L825.4 248.0 L827.0 250.5 L828.6 253.0 L830.3 255.5 L832.0 258.0 L833.7 260.5 L835.4 262.9 L837.2 265.3 L839.0 267.7 L840.8 270.1 L842.6 272.5 L844.5 274.8 L846.4 277.1 L848.3 279.4 L850.3 281.7 L852.3 283.9 L854.3 286.1 L856.4 288.3 L858.4 290.5 L860.6 292.6 L862.7 294.7 L864.8 296.8 L867.0 298.8 L869.3 300.9 L871.5 302.9 L873.8 304.8 L876.1 306.7 L878.4 308.6 L880.7 310.5 L883.1 312.3 L885.5 314.1 L887.9 315.9 L890.4 317.6 L892.8 319.3 L895.3 321.0 L897.8 322.7 L900.3 324.3 L902.9 325.9 L905.4 327.4 L908.0 329.0 L910.6 330.5 L913.2 332.0 L915.8 333.4 L918.5 334.8 L921.1 336.2 L923.8 337.6 L926.5 339.0 L929.1 340.3 L931.8 341.6 L934.6 342.9 L937.3 344.1 L940.0 345.4 L942.7 346.6 L945.5 347.8 L948.2 349.0 L951.0 350.1 L953.8 351.3 L956.6 352.4 L959.3 353.5 L962.1 354.6 L964.9 355.6 L967.7 356.7 L970.6 357.7 L973.4 358.8 L976.2 359.8 L979.0 360.8 L981.8 361.8 L984.7 362.7 L987.5 363.7 L990.4 364.7 L993.2 365.6 L996.1 366.5 L998.9 367.4 L1001.8 368.3 L1004.6 369.2 L1007.5 370.1 L1010.4 370.9 L1013.3 371.8 L1016.1 372.6 L1019.0 373.5 L1021.9 374.3 L1024.8 375.1 L1027.7 375.9 L1030.6 376.7 L1033.5 377.4 L1036.4 378.2 L1039.3 378.9 L1042.2 379.7 L1045.1 380.4 L1048.0 381.1 L1050.9 381.8 L1053.8 382.5 L1056.7 383.2 L1059.7 383.9 L1062.6 384.5 L1065.5 385.1 L1068.4 385.8 L1071.4 386.4 L1074.3 387.0 L1077.3 387.6 L1080.2 388.1 L1083.1 388.7 L1086.1 389.2 L1089.0 389.7 L1092.0 390.2 L1095.0 390.7 L1097.9 391.2 L1100.9 391.7 L1103.8 392.1 L1106.8 392.5 L1109.8 392.9 L1112.8 393.3 L1115.7 393.7 L1118.7 394.0 L1121.7 394.3 L1124.7 394.6 L1127.7 394.9 L1128.1 394.9 L1128.1 -38.0 L737.2 -38.0 Z" fill="#ffeaea"/>
<rect x="654.6" y="22.0" width="3.7" height="468.4" fill="#fff"/>
<path d="M737.2 -52.1 L737.6 -49.2 L738.1 -46.2 L738.6 -43.3 L739.0 -40.3 L739.5 -37.3 L740.0 -34.4 L740.5 -31.4 L741.0 -28.5 L741.5 -25.5 L742.0 -22.6 L742.5 -19.6 L743.0 -16.7 L743.5 -13.7 L744.0 -10.7 L744.5 -7.8 L745.1 -4.8 L745.6 -1.9 L746.1 1.1 L746.7 4.0 L747.2 6.9 L747.8 9.9 L748.3 12.8 L748.9 15.8 L749.4 18.7 L750.0 21.7 L750.6 24.6 L751.2 27.6 L751.7 30.5 L752.3 33.4 L752.9 36.4 L753.5 39.3 L754.1 42.2 L754.7 45.2 L755.4 48.1 L756.0 51.0 L756.6 54.0 L757.2 56.9 L757.9 59.8 L758.5 62.8 L759.2 65.7 L759.9 68.6 L760.5 71.5 L761.2 74.4 L761.9 77.4 L762.6 80.3 L763.3 83.2 L764.0 86.1 L764.7 89.0 L765.4 91.9 L766.1 94.8 L766.9 97.7 L767.6 100.6 L768.4 103.5 L769.2 106.4 L769.9 109.3 L770.7 112.2 L771.5 115.1 L772.3 118.0 L773.1 120.9 L773.9 123.8 L774.8 126.7 L775.6 129.5 L776.4 132.4 L777.3 135.3 L778.2 138.1 L779.1 141.0 L779.9 143.9 L780.9 146.7 L781.8 149.6 L782.7 152.4 L783.6 155.3 L784.6 158.1 L785.6 161.0 L786.5 163.8 L787.5 166.6 L788.5 169.4 L789.6 172.3 L790.6 175.1 L791.7 177.9 L792.7 180.7 L793.8 183.5 L794.9 186.3 L796.0 189.0 L797.1 191.8 L798.3 194.6 L799.5 197.4 L800.6 200.1 L801.8 202.9 L803.1 205.6 L804.3 208.3 L805.5 211.0 L806.8 213.8 L808.1 216.5 L809.4 219.1 L810.8 221.8 L812.1 224.5 L813.5 227.2 L814.9 229.8 L816.3 232.4 L817.8 235.1 L819.3 237.7 L820.8 240.3 L822.3 242.9 L823.8 245.4 L825.4 248.0 L827.0 250.5 L828.6 253.0 L830.3 255.5 L832.0 258.0 L833.7 260.5 L835.4 262.9 L837.2 265.3 L839.0 267.7 L840.8 270.1 L842.6 272.5 L844.5 274.8 L846.4 277.1 L848.3 279.4 L850.3 281.7 L852.3 283.9 L854.3 286.1 L856.4 288.3 L858.4 290.5 L860.6 292.6 L862.7 294.7 L864.8 296.8 L867.0 298.8 L869.3 300.9 L871.5 302.9 L873.8 304.8 L876.1 306.7 L878.4 308.6 L880.7 310.5 L883.1 312.3 L885.5 314.1 L887.9 315.9 L890.4 317.6 L892.8 319.3 L895.3 321.0 L897.8 322.7 L900.3 324.3 L902.9 325.9 L905.4 327.4 L908.0 329.0 L910.6 330.5 L913.2 332.0 L915.8 333.4 L918.5 334.8 L921.1 336.2 L923.8 337.6 L926.5 339.0 L929.1 340.3 L931.8 341.6 L934.6 342.9 L937.3 344.1 L940.0 345.4 L942.7 346.6 L945.5 347.8 L948.2 349.0 L951.0 350.1 L953.8 351.3 L956.6 352.4 L959.3 353.5 L962.1 354.6 L964.9 355.6 L967.7 356.7 L970.6 357.7 L973.4 358.8 L976.2 359.8 L979.0 360.8 L981.8 361.8 L984.7 362.7 L987.5 363.7 L990.4 364.7 L993.2 365.6 L996.1 366.5 L998.9 367.4 L1001.8 368.3 L1004.6 369.2 L1007.5 370.1 L1010.4 370.9 L1013.3 371.8 L1016.1 372.6 L1019.0 373.5 L1021.9 374.3 L1024.8 375.1 L1027.7 375.9 L1030.6 376.7 L1033.5 377.4 L1036.4 378.2 L1039.3 378.9 L1042.2 379.7 L1045.1 380.4 L1048.0 381.1 L1050.9 381.8 L1053.8 382.5 L1056.7 383.2 L1059.7 383.9 L1062.6 384.5 L1065.5 385.1 L1068.4 385.8 L1071.4 386.4 L1074.3 387.0 L1077.3 387.6 L1080.2 388.1 L1083.1 388.7 L1086.1 389.2 L1089.0 389.7 L1092.0 390.2 L1095.0 390.7 L1097.9 391.2 L1100.9 391.7 L1103.8 392.1 L1106.8 392.5 L1109.8 392.9 L1112.8 393.3 L1115.7 393.7 L1118.7 394.0 L1121.7 394.3 L1124.7 394.6 L1127.7 394.9" fill="none" stroke="#ff0000" stroke-width="2.6"/>
<path d="M707.7 -52.2 L707.9 -49.2 L708.1 -46.2 L708.4 -43.2 L708.6 -40.2 L708.8 -37.3 L709.1 -34.3 L709.3 -31.3 L709.6 -28.3 L709.8 -25.3 L710.1 -22.3 L710.3 -19.4 L710.6 -16.4 L710.8 -13.4 L711.1 -10.4 L711.4 -7.4 L711.6 -4.5 L711.9 -1.5 L712.2 1.5 L712.4 4.5 L712.7 7.5 L713.0 10.4 L713.3 13.4 L713.6 16.4 L713.8 19.4 L714.1 22.4 L714.4 25.3 L714.7 28.3 L715.0 31.3 L715.3 34.3 L715.6 37.2 L716.0 40.2 L716.3 43.2 L716.6 46.2 L716.9 49.1 L717.2 52.1 L717.6 55.1 L717.9 58.1 L718.2 61.0 L718.6 64.0 L718.9 67.0 L719.3 70.0 L719.6 72.9 L720.0 75.9 L720.4 78.9 L720.7 81.8 L721.1 84.8 L721.5 87.8 L721.9 90.7 L722.3 93.7 L722.7 96.7 L723.1 99.6 L723.5 102.6 L723.9 105.6 L724.3 108.5 L724.7 111.5 L725.1 114.5 L725.6 117.4 L726.0 120.4 L726.5 123.3 L726.9 126.3 L727.4 129.3 L727.9 132.2 L728.3 135.2 L728.8 138.1 L729.3 141.1 L729.8 144.0 L730.3 147.0 L730.8 149.9 L731.4 152.9 L731.9 155.8 L732.4 158.8 L733.0 161.7 L733.5 164.6 L734.1 167.6 L734.7 170.5 L735.3 173.4 L735.9 176.4 L736.5 179.3 L737.1 182.2 L737.7 185.2 L738.4 188.1 L739.0 191.0 L739.7 193.9 L740.4 196.8 L741.1 199.7 L741.8 202.6 L742.5 205.6 L743.2 208.5 L744.0 211.3 L744.7 214.2 L745.5 217.1 L746.3 220.0 L747.1 222.9 L748.0 225.8 L748.8 228.6 L749.7 231.5 L750.6 234.4 L751.5 237.2 L752.4 240.1 L753.3 242.9 L754.3 245.7 L755.3 248.6 L756.3 251.4 L757.3 254.2 L758.3 257.0 L759.4 259.8 L760.5 262.6 L761.6 265.3 L762.8 268.1 L764.0 270.9 L765.2 273.6 L766.4 276.3 L767.7 279.0 L769.0 281.7 L770.3 284.4 L771.6 287.1 L773.0 289.7 L774.4 292.4 L775.9 295.0 L777.4 297.6 L778.9 300.2 L780.4 302.7 L782.0 305.3 L783.6 307.8 L785.3 310.3 L787.0 312.8 L788.7 315.2 L790.5 317.6 L792.2 320.0 L794.1 322.4 L795.9 324.7 L797.8 327.0 L799.8 329.3 L801.8 331.6 L803.8 333.8 L805.8 336.0 L807.9 338.1 L810.0 340.3 L812.1 342.4 L814.3 344.4 L816.5 346.4 L818.7 348.4 L821.0 350.4 L823.3 352.3 L825.6 354.2 L828.0 356.1 L830.3 357.9 L832.7 359.7 L835.2 361.4 L837.6 363.1 L840.1 364.8 L842.6 366.5 L845.1 368.1 L847.6 369.7 L850.2 371.3 L852.7 372.8 L855.3 374.3 L857.9 375.8 L860.6 377.2 L863.2 378.6 L865.8 380.0 L868.5 381.4 L871.2 382.7 L873.9 384.0 L876.6 385.3 L879.3 386.5 L882.0 387.8 L884.8 389.0 L887.5 390.1 L890.3 391.3 L893.1 392.4 L895.8 393.5 L898.6 394.6 L901.4 395.7 L904.2 396.7 L907.0 397.8 L909.9 398.8 L912.7 399.7 L915.5 400.7 L918.4 401.6 L921.2 402.6 L924.1 403.5 L926.9 404.3 L929.8 405.2 L932.7 406.1 L935.5 406.9 L938.4 407.7 L941.3 408.5 L944.2 409.3 L947.1 410.0 L950.0 410.8 L952.9 411.5 L955.8 412.2 L958.7 412.9 L961.6 413.6 L964.5 414.3 L967.4 415.0 L970.4 415.6 L973.3 416.2 L976.2 416.8 L979.2 417.4 L982.1 418.0 L985.0 418.6 L988.0 419.2 L990.9 419.7 L993.8 420.3 L996.8 420.8 L999.7 421.3 L1002.7 421.8 L1005.6 422.3 L1008.6 422.8 L1011.6 423.2 L1014.5 423.7 L1017.5 424.1 L1020.4 424.6 L1023.4 425.0 L1026.4 425.4 L1029.3 425.8 L1032.3 426.2 L1035.3 426.6 L1038.2 427.0 L1041.2 427.3 L1044.2 427.7 L1047.1 428.0 L1050.1 428.4 L1053.1 428.7 L1056.1 429.0 L1059.0 429.3 L1062.0 429.6 L1065.0 429.9 L1068.0 430.2 L1070.9 430.5 L1073.9 430.8 L1076.9 431.0 L1079.9 431.3 L1082.9 431.5 L1085.9 431.8 L1088.8 432.0 L1091.8 432.3 L1094.8 432.5 L1097.8 432.7 L1100.8 432.9 L1103.8 433.1 L1106.7 433.3 L1109.7 433.5 L1112.7 433.7 L1115.7 433.9 L1118.7 434.1 L1121.7 434.2 L1124.7 434.4 L1127.7 434.6" fill="none" stroke="#00ff00" stroke-width="3.1" stroke-dasharray="7.6 2.7"/>
<path d="M663.0 -52.4 L663.0 -49.4 L663.0 -46.5 L663.0 -43.5 L663.1 -40.5 L663.1 -37.5 L663.1 -34.5 L663.1 -31.5 L663.2 -28.5 L663.2 -25.5 L663.2 -22.5 L663.2 -19.5 L663.3 -16.5 L663.3 -13.5 L663.3 -10.6 L663.4 -7.6 L663.4 -4.6 L663.4 -1.6 L663.4 1.4 L663.5 4.4 L663.5 7.4 L663.5 10.4 L663.6 13.4 L663.6 16.4 L663.7 19.4 L663.7 22.3 L663.7 25.3 L663.8 28.3 L663.8 31.3 L663.8 34.3 L663.9 37.3 L663.9 40.3 L664.0 43.3 L664.0 46.3 L664.1 49.3 L664.1 52.3 L664.2 55.3 L664.2 58.2 L664.3 61.2 L664.3 64.2 L664.4 67.2 L664.4 70.2 L664.5 73.2 L664.5 76.2 L664.6 79.2 L664.6 82.2 L664.7 85.2 L664.8 88.2 L664.8 91.1 L664.9 94.1 L665.0 97.1 L665.0 100.1 L665.1 103.1 L665.2 106.1 L665.2 109.1 L665.3 112.1 L665.4 115.1 L665.5 118.1 L665.6 121.1 L665.6 124.0 L665.7 127.0 L665.8 130.0 L665.9 133.0 L666.0 136.0 L666.1 139.0 L666.2 142.0 L666.3 145.0 L666.4 148.0 L666.5 151.0 L666.6 153.9 L666.7 156.9 L666.8 159.9 L667.0 162.9 L667.1 165.9 L667.2 168.9 L667.3 171.9 L667.5 174.9 L667.6 177.9 L667.7 180.8 L667.9 183.8 L668.0 186.8 L668.2 189.8 L668.4 192.8 L668.5 195.8 L668.7 198.8 L668.9 201.8 L669.0 204.7 L669.2 207.7 L669.4 210.7 L669.6 213.7 L669.8 216.7 L670.0 219.7 L670.2 222.7 L670.4 225.6 L670.7 228.6 L670.9 231.6 L671.1 234.6 L671.4 237.6 L671.6 240.5 L671.9 243.5 L672.2 246.5 L672.5 249.5 L672.7 252.5 L673.0 255.4 L673.3 258.4 L673.6 261.4 L673.9 264.4 L674.2 267.3 L674.5 270.3 L674.9 273.3 L675.2 276.2 L675.6 279.2 L676.0 282.2 L676.4 285.1 L676.8 288.1 L677.2 291.0 L677.7 294.0 L678.2 296.9 L678.6 299.9 L679.2 302.8 L679.7 305.8 L680.2 308.7 L680.8 311.6 L681.4 314.5 L682.1 317.5 L682.7 320.4 L683.4 323.3 L684.1 326.2 L684.8 329.1 L685.6 331.9 L686.5 334.8 L687.4 337.7 L688.3 340.5 L689.3 343.4 L690.3 346.2 L691.3 349.0 L692.4 351.8 L693.5 354.5 L694.7 357.3 L695.9 360.0 L697.2 362.7 L698.6 365.4 L700.0 368.0 L701.5 370.6 L703.0 373.2 L704.6 375.7 L706.2 378.2 L707.9 380.7 L709.7 383.1 L711.6 385.4 L713.5 387.7 L715.4 390.0 L717.5 392.2 L719.6 394.3 L721.7 396.4 L724.0 398.4 L726.2 400.3 L728.6 402.2 L731.0 404.0 L733.4 405.7 L735.9 407.4 L738.4 409.0 L741.0 410.5 L743.6 412.0 L746.2 413.4 L748.9 414.8 L751.6 416.1 L754.3 417.3 L757.0 418.5 L759.8 419.7 L762.6 420.7 L765.4 421.8 L768.2 422.8 L771.0 423.7 L773.9 424.6 L776.8 425.5 L779.6 426.4 L782.5 427.2 L785.4 427.9 L788.3 428.7 L791.2 429.4 L794.1 430.0 L797.0 430.7 L800.0 431.3 L802.9 431.9 L805.8 432.5 L808.8 433.1 L811.7 433.6 L814.7 434.2 L817.6 434.7 L820.6 435.2 L823.5 435.6 L826.5 436.1 L829.4 436.6 L832.4 437.0 L835.3 437.4 L838.3 437.8 L841.3 438.2 L844.2 438.6 L847.2 439.0 L850.2 439.4 L853.1 439.7 L856.1 440.1 L859.1 440.4 L862.1 440.8 L865.0 441.1 L868.0 441.4 L871.0 441.8 L873.9 442.1 L876.9 442.4 L879.9 442.7 L882.9 443.0 L885.9 443.3 L888.8 443.6 L891.8 443.9 L894.8 444.2 L897.8 444.5 L900.7 444.7 L903.7 445.0 L906.7 445.3 L909.7 445.5 L912.7 445.8 L915.6 446.1 L918.6 446.3 L921.6 446.6 L924.6 446.8 L927.6 447.1 L930.5 447.3 L933.5 447.6 L936.5 447.8 L939.5 448.1 L942.5 448.3 L945.5 448.6 L948.4 448.8 L951.4 449.0 L954.4 449.3 L957.4 449.5 L960.4 449.7 L963.3 450.0 L966.3 450.2 L969.3 450.4 L972.3 450.6 L975.3 450.8 L978.3 451.1 L981.2 451.3 L984.2 451.5 L987.2 451.7 L990.2 451.9 L993.2 452.1 L996.2 452.3 L999.2 452.5 L1002.1 452.7 L1005.1 452.9 L1008.1 453.1 L1011.1 453.3 L1014.1 453.5 L1017.1 453.7 L1020.1 453.9 L1023.0 454.1 L1026.0 454.2 L1029.0 454.4 L1032.0 454.6 L1035.0 454.8 L1038.0 454.9 L1041.0 455.1 L1043.9 455.3 L1046.9 455.4 L1049.9 455.6 L1052.9 455.7 L1055.9 455.9 L1058.9 456.0 L1061.9 456.2 L1064.9 456.3 L1067.9 456.4 L1070.8 456.6 L1073.8 456.7 L1076.8 456.8 L1079.8 456.9 L1082.8 457.0 L1085.8 457.1 L1088.8 457.3 L1091.8 457.3 L1094.8 457.4 L1097.7 457.5 L1100.7 457.6 L1103.7 457.7 L1106.7 457.8 L1109.7 457.8 L1112.7 457.9 L1115.7 458.0 L1118.7 458.0 L1121.7 458.1 L1124.7 458.1 L1127.7 458.1" fill="none" stroke="#ff8000" stroke-width="2.4" stroke-dasharray="7.7 3.2"/>
<path d="M661.5 -52.5 L661.6 -49.5 L661.6 -46.5 L661.6 -43.5 L661.6 -40.5 L661.6 -37.5 L661.7 -34.5 L661.7 -31.5 L661.7 -28.5 L661.7 -25.6 L661.8 -22.6 L661.8 -19.6 L661.8 -16.6 L661.8 -13.6 L661.8 -10.6 L661.9 -7.6 L661.9 -4.6 L661.9 -1.6 L661.9 1.4 L662.0 4.4 L662.0 7.3 L662.0 10.3 L662.1 13.3 L662.1 16.3 L662.1 19.3 L662.1 22.3 L662.2 25.3 L662.2 28.3 L662.2 31.3 L662.3 34.3 L662.3 37.3 L662.3 40.3 L662.4 43.2 L662.4 46.2 L662.4 49.2 L662.5 52.2 L662.5 55.2 L662.5 58.2 L662.6 61.2 L662.6 64.2 L662.7 67.2 L662.7 70.2 L662.7 73.2 L662.8 76.1 L662.8 79.1 L662.9 82.1 L662.9 85.1 L663.0 88.1 L663.0 91.1 L663.0 94.1 L663.1 97.1 L663.1 100.1 L663.2 103.1 L663.2 106.1 L663.3 109.1 L663.4 112.0 L663.4 115.0 L663.5 118.0 L663.5 121.0 L663.6 124.0 L663.6 127.0 L663.7 130.0 L663.8 133.0 L663.8 136.0 L663.9 139.0 L664.0 142.0 L664.0 144.9 L664.1 147.9 L664.2 150.9 L664.3 153.9 L664.4 156.9 L664.4 159.9 L664.5 162.9 L664.6 165.9 L664.7 168.9 L664.8 171.9 L664.9 174.8 L665.0 177.8 L665.1 180.8 L665.2 183.8 L665.3 186.8 L665.4 189.8 L665.5 192.8 L665.6 195.8 L665.7 198.8 L665.8 201.8 L665.9 204.7 L666.1 207.7 L666.2 210.7 L666.3 213.7 L666.5 216.7 L666.6 219.7 L666.7 222.7 L666.9 225.7 L667.0 228.7 L667.2 231.6 L667.4 234.6 L667.5 237.6 L667.7 240.6 L667.9 243.6 L668.1 246.6 L668.3 249.6 L668.5 252.5 L668.7 255.5 L668.9 258.5 L669.1 261.5 L669.3 264.5 L669.6 267.5 L669.8 270.4 L670.1 273.4 L670.3 276.4 L670.6 279.4 L670.9 282.4 L671.2 285.3 L671.5 288.3 L671.8 291.3 L672.1 294.3 L672.5 297.2 L672.8 300.2 L673.2 303.2 L673.6 306.1 L674.0 309.1 L674.4 312.1 L674.9 315.0 L675.3 318.0 L675.8 320.9 L676.3 323.9 L676.8 326.8 L677.4 329.8 L677.9 332.7 L678.5 335.6 L679.2 338.6 L679.8 341.5 L680.5 344.4 L681.2 347.3 L682.0 350.2 L682.8 353.1 L683.6 355.9 L684.5 358.8 L685.4 361.7 L686.4 364.5 L687.4 367.3 L688.5 370.1 L689.6 372.9 L690.8 375.6 L692.0 378.3 L693.3 381.0 L694.7 383.7 L696.1 386.3 L697.6 388.9 L699.2 391.4 L700.9 393.9 L702.6 396.3 L704.4 398.7 L706.3 401.1 L708.3 403.3 L710.3 405.5 L712.4 407.6 L714.6 409.7 L716.8 411.7 L719.1 413.6 L721.5 415.4 L723.9 417.1 L726.4 418.8 L728.9 420.4 L731.5 422.0 L734.1 423.4 L736.8 424.8 L739.4 426.2 L742.1 427.4 L744.9 428.6 L747.6 429.8 L750.4 430.9 L753.2 431.9 L756.0 432.9 L758.9 433.9 L761.7 434.8 L764.6 435.6 L767.5 436.5 L770.4 437.3 L773.3 438.0 L776.2 438.7 L779.1 439.4 L782.0 440.1 L784.9 440.7 L787.8 441.3 L790.8 441.9 L793.7 442.5 L796.6 443.0 L799.6 443.6 L802.5 444.1 L805.5 444.6 L808.4 445.0 L811.4 445.5 L814.4 445.9 L817.3 446.3 L820.3 446.8 L823.3 447.2 L826.2 447.6 L829.2 447.9 L832.2 448.3 L835.1 448.7 L838.1 449.0 L841.1 449.4 L844.0 449.7 L847.0 450.0 L850.0 450.3 L853.0 450.6 L855.9 450.9 L858.9 451.2 L861.9 451.5 L864.9 451.8 L867.8 452.1 L870.8 452.4 L873.8 452.7 L876.8 452.9 L879.8 453.2 L882.7 453.4 L885.7 453.7 L888.7 453.9 L891.7 454.2 L894.7 454.4 L897.7 454.7 L900.6 454.9 L903.6 455.1 L906.6 455.4 L909.6 455.6 L912.6 455.8 L915.5 456.1 L918.5 456.3 L921.5 456.5 L924.5 456.7 L927.5 456.9 L930.5 457.1 L933.5 457.4 L936.4 457.6 L939.4 457.8 L942.4 458.0 L945.4 458.2 L948.4 458.4 L951.4 458.6 L954.3 458.8 L957.3 459.0 L960.3 459.2 L963.3 459.3 L966.3 459.5 L969.3 459.7 L972.3 459.9 L975.2 460.1 L978.2 460.3 L981.2 460.5 L984.2 460.6 L987.2 460.8 L990.2 461.0 L993.2 461.2 L996.1 461.3 L999.1 461.5 L1002.1 461.7 L1005.1 461.9 L1008.1 462.0 L1011.1 462.2 L1014.1 462.3 L1017.1 462.5 L1020.0 462.7 L1023.0 462.8 L1026.0 463.0 L1029.0 463.1 L1032.0 463.3 L1035.0 463.4 L1038.0 463.6 L1041.0 463.7 L1043.9 463.9 L1046.9 464.0 L1049.9 464.1 L1052.9 464.3 L1055.9 464.4 L1058.9 464.5 L1061.9 464.7 L1064.9 464.8 L1067.9 464.9 L1070.8 465.0 L1073.8 465.2 L1076.8 465.3 L1079.8 465.4 L1082.8 465.5 L1085.8 465.6 L1088.8 465.7 L1091.8 465.8 L1094.8 465.9 L1097.8 466.0 L1100.7 466.1 L1103.7 466.2 L1106.7 466.3 L1109.7 466.3 L1112.7 466.4 L1115.7 466.5 L1118.7 466.6 L1121.7 466.6 L1124.7 466.7 L1127.7 466.8" fill="none" stroke="#0000ff" stroke-width="2.5"/>
</g>
<path d="M673.2 490.4 v-6.2 M673.2 22.0 v6.2 M698.2 490.4 v-6.2 M698.2 22.0 v6.2 M723.3 490.4 v-6.2 M723.3 22.0 v6.2 M748.3 490.4 v-12.5 M748.3 22.0 v12.5 M773.3 490.4 v-6.2 M773.3 22.0 v6.2 M798.4 490.4 v-6.2 M798.4 22.0 v6.2 M823.4 490.4 v-6.2 M823.4 22.0 v6.2 M848.5 490.4 v-6.2 M848.5 22.0 v6.2 M873.5 490.4 v-12.5 M873.5 22.0 v12.5 M898.5 490.4 v-6.2 M898.5 22.0 v6.2 M923.6 490.4 v-6.2 M923.6 22.0 v6.2 M948.6 490.4 v-6.2 M948.6 22.0 v6.2 M973.7 490.4 v-6.2 M973.7 22.0 v6.2 M998.7 490.4 v-12.5 M998.7 22.0 v12.5 M1023.7 490.4 v-6.2 M1023.7 22.0 v6.2 M1048.8 490.4 v-6.2 M1048.8 22.0 v6.2 M1073.8 490.4 v-6.2 M1073.8 22.0 v6.2 M1098.9 490.4 v-6.2 M1098.9 22.0 v6.2 M1123.9 490.4 v-12.5 M1123.9 22.0 v12.5 M654.6 490.9 h6.2 M1123.1 490.9 h-6.2 M654.6 466.2 h6.2 M1123.1 466.2 h-6.2 M654.6 441.5 h6.2 M1123.1 441.5 h-6.2 M654.6 416.8 h12.5 M1123.1 416.8 h-12.5 M654.6 392.1 h6.2 M1123.1 392.1 h-6.2 M654.6 367.4 h6.2 M1123.1 367.4 h-6.2 M654.6 342.7 h6.2 M1123.1 342.7 h-6.2 M654.6 318.0 h12.5 M1123.1 318.0 h-12.5 M654.6 293.3 h6.2 M1123.1 293.3 h-6.2 M654.6 268.6 h6.2 M1123.1 268.6 h-6.2 M654.6 243.9 h6.2 M1123.1 243.9 h-6.2 M654.6 219.2 h12.5 M1123.1 219.2 h-12.5 M654.6 194.5 h6.2 M1123.1 194.5 h-6.2 M654.6 169.8 h6.2 M1123.1 169.8 h-6.2 M654.6 145.1 h6.2 M1123.1 145.1 h-6.2 M654.6 120.4 h12.5 M1123.1 120.4 h-12.5 M654.6 95.7 h6.2 M1123.1 95.7 h-6.2 M654.6 71.0 h6.2 M1123.1 71.0 h-6.2 M654.6 46.3 h6.2 M1123.1 46.3 h-6.2 M654.6 21.6 h12.5 M1123.1 21.6 h-12.5" stroke="#555" stroke-width="1" fill="none"/>
<rect x="654.6" y="22.0" width="468.4999999999999" height="468.4" fill="none" stroke="#000" stroke-width="2.6"/>
<path d="M655.6 344.8 H1127" stroke="#000" stroke-width="2" stroke-dasharray="3.8 6.6" fill="none"/>
<ellipse cx="737.3" cy="343.7" rx="12.2" ry="13.2" fill="#c55cc0" stroke="#000" stroke-width="1.7"/>
<ellipse cx="811.1" cy="343.7" rx="12.2" ry="13.2" fill="#73b62a" stroke="#000" stroke-width="1.7"/>
<ellipse cx="875.1" cy="344.7" rx="12.2" ry="13.2" fill="#ffd700" stroke="#000" stroke-width="1.7"/>
<ellipse cx="1056.9" cy="342.9" rx="12.2" ry="13.2" fill="#ff0000" stroke="#000" stroke-width="1.7"/>
<text class="ar" x="650" y="33.3" font-size="33" text-anchor="end">10</text>
<text class="ar" x="650" y="132.1" font-size="33" text-anchor="end">8</text>
<text class="ar" x="650" y="230.9" font-size="33" text-anchor="end">6</text>
<text class="ar" x="650" y="329.7" font-size="33" text-anchor="end">4</text>
<text class="ar" x="650" y="428.5" font-size="33" text-anchor="end">2</text>
<text class="ar" x="747.3" y="527" font-size="33.3" text-anchor="middle">0.67</text>
<text class="ar" x="872.5" y="527" font-size="33.3" text-anchor="middle">0.68</text>
<text class="ar" x="997.7" y="527" font-size="33.3" text-anchor="middle">0.69</text>
<text class="ar" x="1122.9" y="527" font-size="33.3" text-anchor="middle">0.70</text>
<text class="vd" x="866.6" y="570.8" font-size="33.5" font-style="italic">T<tspan font-size="38" dx="-0.6" dy="1.7">/</tspan><tspan dx="3.4" dy="-1.7">T</tspan><tspan font-size="21.5" dy="7.4" dx="0.4">c</tspan></text>
<text class="vd" x="682.3" y="73.9" font-size="42" letter-spacing="1.2">b)</text>
<text class="vd" x="1165" y="36.9" font-size="41.5">c)</text>
<text class="vd" x="1389.4" y="19.5" font-size="21.7" textLength="463" lengthAdjust="spacingAndGlyphs">Vortex-Vortex interaction potential <tspan font-style="italic">V(R)</tspan></text>
<text class="vd" x="1489.8" y="340.8" font-size="22" textLength="247.8" lengthAdjust="spacingAndGlyphs">Vortex configurations</text>
<circle cx="1238.5" cy="59.5" r="17" fill="#c55cc0" stroke="#000" stroke-width="2"/>
<circle cx="1436.2" cy="60" r="17" fill="#73b62a" stroke="#000" stroke-width="2"/>
<circle cx="1650.5" cy="58" r="17" fill="#ffd700" stroke="#000" stroke-width="2"/>
<circle cx="1853.7" cy="60.7" r="17" fill="#ff0000" stroke="#000" stroke-width="2"/>
<text class="vd" transform="translate(1167.9,242.6) rotate(-90)" font-size="20.6" letter-spacing="0.35"><tspan font-style="italic">V(R)</tspan> (arb. un.)</text>
<rect x="1220.9" y="89.4" width="156.89999999999986" height="164.7" fill="#fff" stroke="#000" stroke-width="2"/>
<path d="M1223.7 254.1 v-4 M1223.7 89.4 v4 M1232.0 254.1 v-2.5 M1232.0 89.4 v2.5 M1240.3 254.1 v-2.5 M1240.3 89.4 v2.5 M1248.6 254.1 v-2.5 M1248.6 89.4 v2.5 M1256.9 254.1 v-4 M1256.9 89.4 v4 M1265.2 254.1 v-2.5 M1265.2 89.4 v2.5 M1273.5 254.1 v-2.5 M1273.5 89.4 v2.5 M1281.8 254.1 v-2.5 M1281.8 89.4 v2.5 M1290.1 254.1 v-4 M1290.1 89.4 v4 M1298.4 254.1 v-2.5 M1298.4 89.4 v2.5 M1306.7 254.1 v-2.5 M1306.7 89.4 v2.5 M1315.0 254.1 v-2.5 M1315.0 89.4 v2.5 M1323.3 254.1 v-4 M1323.3 89.4 v4 M1331.6 254.1 v-2.5 M1331.6 89.4 v2.5 M1339.9 254.1 v-2.5 M1339.9 89.4 v2.5 M1348.2 254.1 v-2.5 M1348.2 89.4 v2.5 M1356.5 254.1 v-4 M1356.5 89.4 v4 M1364.8 254.1 v-2.5 M1364.8 89.4 v2.5 M1373.1 254.1 v-2.5 M1373.1 89.4 v2.5 M1220.9 97.2 h4 M1377.8 97.2 h-4 M1220.9 126.1 h4 M1377.8 126.1 h-4 M1220.9 155.0 h4 M1377.8 155.0 h-4 M1220.9 183.9 h4 M1377.8 183.9 h-4 M1220.9 212.8 h4 M1377.8 212.8 h-4 M1220.9 241.7 h4 M1377.8 241.7 h-4 M1220.9 91.4 h2.5 M1377.8 91.4 h-2.5 M1220.9 97.2 h2.5 M1377.8 97.2 h-2.5 M1220.9 103.0 h2.5 M1377.8 103.0 h-2.5 M1220.9 108.8 h2.5 M1377.8 108.8 h-2.5 M1220.9 114.5 h2.5 M1377.8 114.5 h-2.5 M1220.9 120.3 h2.5 M1377.8 120.3 h-2.5 M1220.9 126.1 h2.5 M1377.8 126.1 h-2.5 M1220.9 131.9 h2.5 M1377.8 131.9 h-2.5 M1220.9 137.7 h2.5 M1377.8 137.7 h-2.5 M1220.9 143.4 h2.5 M1377.8 143.4 h-2.5 M1220.9 149.2 h2.5 M1377.8 149.2 h-2.5 M1220.9 155.0 h2.5 M1377.8 155.0 h-2.5 M1220.9 160.8 h2.5 M1377.8 160.8 h-2.5 M1220.9 166.6 h2.5 M1377.8 166.6 h-2.5 M1220.9 172.3 h2.5 M1377.8 172.3 h-2.5 M1220.9 178.1 h2.5 M1377.8 178.1 h-2.5 M1220.9 183.9 h2.5 M1377.8 183.9 h-2.5 M1220.9 189.7 h2.5 M1377.8 189.7 h-2.5 M1220.9 195.5 h2.5 M1377.8 195.5 h-2.5 M1220.9 201.2 h2.5 M1377.8 201.2 h-2.5 M1220.9 207.0 h2.5 M1377.8 207.0 h-2.5 M1220.9 212.8 h2.5 M1377.8 212.8 h-2.5 M1220.9 218.6 h2.5 M1377.8 218.6 h-2.5 M1220.9 224.4 h2.5 M1377.8 224.4 h-2.5 M1220.9 230.1 h2.5 M1377.8 230.1 h-2.5 M1220.9 235.9 h2.5 M1377.8 235.9 h-2.5 M1220.9 241.7 h2.5 M1377.8 241.7 h-2.5 M1220.9 247.5 h2.5 M1377.8 247.5 h-2.5" stroke="#777" stroke-width="0.8" fill="none"/>
<path d="M1222.9 246.2 L1223.9 246.2 L1224.8 246.2 L1225.8 246.2 L1226.7 246.2 L1227.7 246.2 L1228.6 246.2 L1229.6 246.2 L1230.6 246.2 L1231.5 246.2 L1232.5 246.2 L1233.4 246.2 L1234.4 246.2 L1235.4 246.2 L1236.3 246.2 L1237.3 246.2 L1238.2 246.2 L1239.2 246.2 L1240.1 246.2 L1241.1 246.2 L1242.1 246.2 L1243.0 246.1 L1244.0 246.0 L1244.9 245.9 L1245.9 245.8 L1246.8 245.5 L1247.8 245.3 L1248.8 244.9 L1249.7 244.5 L1250.7 244.1 L1251.6 243.5 L1252.6 242.9 L1253.6 242.1 L1254.5 241.3 L1255.5 240.3 L1256.4 239.2 L1257.4 237.9 L1258.3 236.5 L1259.3 234.8 L1260.3 233.1 L1261.2 231.1 L1262.2 229.1 L1263.1 226.8 L1264.1 224.5 L1265.0 222.0 L1266.0 219.4 L1267.0 216.6 L1267.9 213.7 L1268.9 210.7 L1269.8 207.5 L1270.8 204.3 L1271.8 201.0 L1272.7 197.6 L1273.7 194.2 L1274.6 190.8 L1275.6 187.4 L1276.5 184.0 L1277.5 180.7 L1278.5 177.3 L1279.4 174.0 L1280.4 170.7 L1281.3 167.4 L1282.3 164.2 L1283.2 161.0 L1284.2 157.9 L1285.2 154.9 L1286.1 151.9 L1287.1 149.1 L1288.0 146.5 L1289.0 143.9 L1290.0 141.4 L1290.9 139.1 L1291.9 136.8 L1292.8 134.6 L1293.8 132.5 L1294.7 130.4 L1295.7 128.4 L1296.7 126.5 L1297.6 124.6 L1298.6 122.9 L1299.5 121.3 L1300.5 119.8 L1301.4 118.4 L1302.4 117.1 L1303.4 115.8 L1304.3 114.6 L1305.3 113.5 L1306.2 112.5 L1307.2 111.5 L1308.1 110.6 L1309.1 109.8 L1310.1 109.0 L1311.0 108.2 L1312.0 107.5 L1312.9 106.8 L1313.9 106.2 L1314.9 105.6 L1315.8 105.1 L1316.8 104.6 L1317.7 104.1 L1318.7 103.6 L1319.6 103.2 L1320.6 102.8 L1321.6 102.4 L1322.5 102.0 L1323.5 101.7 L1324.4 101.4 L1325.4 101.1 L1326.3 100.8 L1327.3 100.6 L1328.3 100.3 L1329.2 100.1 L1330.2 99.9 L1331.1 99.7 L1332.1 99.5 L1333.1 99.4 L1334.0 99.2 L1335.0 99.1 L1335.9 98.9 L1336.9 98.8 L1337.8 98.7 L1338.8 98.6 L1339.8 98.5 L1340.7 98.4 L1341.7 98.3 L1342.6 98.2 L1343.6 98.1 L1344.5 98.0 L1345.5 98.0 L1346.5 97.9 L1347.4 97.8 L1348.4 97.8 L1349.3 97.7 L1350.3 97.7 L1351.3 97.6 L1352.2 97.6 L1353.2 97.6 L1354.1 97.5 L1355.1 97.5 L1356.0 97.5 L1357.0 97.4 L1358.0 97.4 L1358.9 97.4 L1359.9 97.4 L1360.8 97.4 L1361.8 97.3 L1362.7 97.3 L1363.7 97.3 L1364.7 97.3 L1365.6 97.3 L1366.6 97.3 L1367.5 97.3 L1368.5 97.2 L1369.5 97.2 L1370.4 97.2 L1371.4 97.2 L1372.3 97.2 L1373.3 97.2 L1374.2 97.2 L1375.2 97.2" fill="none" stroke="#1a1aff" stroke-width="1.8"/>
<text class="ar" x="1218.4" y="103.3" font-size="17" text-anchor="end">0</text>
<text class="ar" x="1218.4" y="132.2" font-size="17" text-anchor="end">−0.1</text>
<text class="ar" x="1218.4" y="161.1" font-size="17" text-anchor="end">−0.2</text>
<text class="ar" x="1218.4" y="190.0" font-size="17" text-anchor="end">−0.3</text>
<text class="ar" x="1218.4" y="218.9" font-size="17" text-anchor="end">−0.4</text>
<text class="ar" x="1218.4" y="247.8" font-size="17" text-anchor="end">−0.5</text>
<text class="ar" x="1224.0" y="272.4" font-size="18.3" text-anchor="middle">0</text>
<text class="ar" x="1257.2" y="272.4" font-size="18.3" text-anchor="middle">2</text>
<text class="ar" x="1290.4" y="272.4" font-size="18.3" text-anchor="middle">4</text>
<text class="ar" x="1323.6" y="272.4" font-size="18.3" text-anchor="middle">6</text>
<text class="ar" x="1356.8" y="272.4" font-size="18.3" text-anchor="middle">8</text>
<text class="sr" transform="translate(1297.4,296.9) scale(1.13,1)" font-size="22.8" text-anchor="middle" letter-spacing="2.6">R/ξ</text>
<rect x="1420.2" y="92" width="161.79999999999995" height="162.9" fill="#fff" stroke="#000" stroke-width="2"/>
<path d="M1423.5 254.9 v-4 M1423.5 92 v4 M1432.0 254.9 v-2.5 M1432.0 92 v2.5 M1440.6 254.9 v-2.5 M1440.6 92 v2.5 M1449.2 254.9 v-2.5 M1449.2 92 v2.5 M1457.7 254.9 v-4 M1457.7 92 v4 M1466.2 254.9 v-2.5 M1466.2 92 v2.5 M1474.8 254.9 v-2.5 M1474.8 92 v2.5 M1483.3 254.9 v-2.5 M1483.3 92 v2.5 M1491.9 254.9 v-4 M1491.9 92 v4 M1500.5 254.9 v-2.5 M1500.5 92 v2.5 M1509.0 254.9 v-2.5 M1509.0 92 v2.5 M1517.5 254.9 v-2.5 M1517.5 92 v2.5 M1526.1 254.9 v-4 M1526.1 92 v4 M1534.7 254.9 v-2.5 M1534.7 92 v2.5 M1543.2 254.9 v-2.5 M1543.2 92 v2.5 M1551.8 254.9 v-2.5 M1551.8 92 v2.5 M1560.3 254.9 v-4 M1560.3 92 v4 M1568.8 254.9 v-2.5 M1568.8 92 v2.5 M1577.4 254.9 v-2.5 M1577.4 92 v2.5 M1420.2 99.6 h4 M1582 99.6 h-4 M1420.2 140.9 h4 M1582 140.9 h-4 M1420.2 182.3 h4 M1582 182.3 h-4 M1420.2 223.7 h4 M1582 223.7 h-4 M1420.2 99.6 h2.5 M1582 99.6 h-2.5 M1420.2 107.9 h2.5 M1582 107.9 h-2.5 M1420.2 116.1 h2.5 M1582 116.1 h-2.5 M1420.2 124.4 h2.5 M1582 124.4 h-2.5 M1420.2 132.7 h2.5 M1582 132.7 h-2.5 M1420.2 140.9 h2.5 M1582 140.9 h-2.5 M1420.2 149.2 h2.5 M1582 149.2 h-2.5 M1420.2 157.5 h2.5 M1582 157.5 h-2.5 M1420.2 165.8 h2.5 M1582 165.8 h-2.5 M1420.2 174.0 h2.5 M1582 174.0 h-2.5 M1420.2 182.3 h2.5 M1582 182.3 h-2.5 M1420.2 190.6 h2.5 M1582 190.6 h-2.5 M1420.2 198.8 h2.5 M1582 198.8 h-2.5 M1420.2 207.1 h2.5 M1582 207.1 h-2.5 M1420.2 215.4 h2.5 M1582 215.4 h-2.5 M1420.2 223.7 h2.5 M1582 223.7 h-2.5 M1420.2 231.9 h2.5 M1582 231.9 h-2.5 M1420.2 240.2 h2.5 M1582 240.2 h-2.5 M1420.2 248.5 h2.5 M1582 248.5 h-2.5" stroke="#777" stroke-width="0.8" fill="none"/>
<path d="M1423.2 237.2 L1424.2 237.2 L1425.2 237.2 L1426.1 237.3 L1427.1 237.3 L1428.1 237.3 L1429.1 237.4 L1430.0 237.5 L1431.0 237.5 L1432.0 237.6 L1433.0 237.8 L1434.0 237.9 L1434.9 238.1 L1435.9 238.4 L1436.9 238.7 L1437.9 239.0 L1438.8 239.4 L1439.8 239.8 L1440.8 240.2 L1441.8 240.7 L1442.7 241.2 L1443.7 241.7 L1444.7 242.3 L1445.7 242.8 L1446.7 243.4 L1447.6 243.9 L1448.6 244.4 L1449.6 244.9 L1450.6 245.4 L1451.5 245.8 L1452.5 246.1 L1453.5 246.4 L1454.5 246.6 L1455.5 246.7 L1456.4 246.6 L1457.4 246.5 L1458.4 246.2 L1459.4 245.8 L1460.3 245.1 L1461.3 244.2 L1462.3 243.0 L1463.3 241.5 L1464.2 239.8 L1465.2 237.8 L1466.2 235.6 L1467.2 233.2 L1468.2 230.6 L1469.1 227.8 L1470.1 224.8 L1471.1 221.6 L1472.1 218.2 L1473.0 214.8 L1474.0 211.2 L1475.0 207.6 L1476.0 203.9 L1477.0 200.2 L1477.9 196.6 L1478.9 193.0 L1479.9 189.4 L1480.9 185.8 L1481.8 182.2 L1482.8 178.7 L1483.8 175.2 L1484.8 171.8 L1485.8 168.4 L1486.7 165.1 L1487.7 161.9 L1488.7 158.7 L1489.7 155.6 L1490.6 152.7 L1491.6 149.8 L1492.6 147.0 L1493.6 144.4 L1494.5 141.8 L1495.5 139.3 L1496.5 137.0 L1497.5 134.8 L1498.5 132.6 L1499.4 130.6 L1500.4 128.7 L1501.4 126.9 L1502.4 125.2 L1503.3 123.6 L1504.3 122.1 L1505.3 120.6 L1506.3 119.3 L1507.3 118.0 L1508.2 116.8 L1509.2 115.7 L1510.2 114.7 L1511.2 113.7 L1512.1 112.8 L1513.1 112.0 L1514.1 111.2 L1515.1 110.5 L1516.0 109.8 L1517.0 109.1 L1518.0 108.5 L1519.0 108.0 L1520.0 107.4 L1520.9 106.9 L1521.9 106.5 L1522.9 106.0 L1523.9 105.6 L1524.8 105.2 L1525.8 104.8 L1526.8 104.4 L1527.8 104.1 L1528.8 103.8 L1529.7 103.5 L1530.7 103.3 L1531.7 103.1 L1532.7 102.9 L1533.6 102.7 L1534.6 102.5 L1535.6 102.4 L1536.6 102.2 L1537.6 102.1 L1538.5 101.9 L1539.5 101.8 L1540.5 101.7 L1541.5 101.6 L1542.4 101.4 L1543.4 101.3 L1544.4 101.2 L1545.4 101.1 L1546.3 101.0 L1547.3 100.9 L1548.3 100.8 L1549.3 100.7 L1550.3 100.6 L1551.2 100.5 L1552.2 100.4 L1553.2 100.4 L1554.2 100.3 L1555.1 100.2 L1556.1 100.1 L1557.1 100.1 L1558.1 100.0 L1559.1 100.0 L1560.0 99.9 L1561.0 99.9 L1562.0 99.9 L1563.0 99.8 L1563.9 99.8 L1564.9 99.8 L1565.9 99.8 L1566.9 99.7 L1567.8 99.7 L1568.8 99.7 L1569.8 99.7 L1570.8 99.7 L1571.8 99.7 L1572.7 99.6 L1573.7 99.6 L1574.7 99.6 L1575.7 99.6 L1576.6 99.6 L1577.6 99.6 L1578.6 99.6" fill="none" stroke="#1a1aff" stroke-width="1.8"/>
<text class="ar" x="1417.7" y="105.7" font-size="17" text-anchor="end">0</text>
<text class="ar" x="1417.7" y="147.0" font-size="17" text-anchor="end">−0.1</text>
<text class="ar" x="1417.7" y="188.4" font-size="17" text-anchor="end">−0.2</text>
<text class="ar" x="1417.7" y="229.7" font-size="17" text-anchor="end">−0.3</text>
<text class="ar" x="1423.8" y="272.7" font-size="18.3" text-anchor="middle">0</text>
<text class="ar" x="1458.0" y="272.7" font-size="18.3" text-anchor="middle">2</text>
<text class="ar" x="1492.2" y="272.7" font-size="18.3" text-anchor="middle">4</text>
<text class="ar" x="1526.4" y="272.7" font-size="18.3" text-anchor="middle">6</text>
<text class="ar" x="1560.6" y="272.7" font-size="18.3" text-anchor="middle">8</text>
<text class="sr" transform="translate(1505.2,294.8) scale(1.13,1)" font-size="22.8" text-anchor="middle" letter-spacing="2.6">R/ξ</text>
<rect x="1636.4" y="90.5" width="154.19999999999982" height="161.7" fill="#fff" stroke="#000" stroke-width="2"/>
<path d="M1638.6 252.2 v-4 M1638.6 90.5 v4 M1646.9 252.2 v-2.5 M1646.9 90.5 v2.5 M1655.2 252.2 v-2.5 M1655.2 90.5 v2.5 M1663.6 252.2 v-2.5 M1663.6 90.5 v2.5 M1671.9 252.2 v-4 M1671.9 90.5 v4 M1680.2 252.2 v-2.5 M1680.2 90.5 v2.5 M1688.5 252.2 v-2.5 M1688.5 90.5 v2.5 M1696.9 252.2 v-2.5 M1696.9 90.5 v2.5 M1705.2 252.2 v-4 M1705.2 90.5 v4 M1713.5 252.2 v-2.5 M1713.5 90.5 v2.5 M1721.8 252.2 v-2.5 M1721.8 90.5 v2.5 M1730.2 252.2 v-2.5 M1730.2 90.5 v2.5 M1738.5 252.2 v-4 M1738.5 90.5 v4 M1746.8 252.2 v-2.5 M1746.8 90.5 v2.5 M1755.1 252.2 v-2.5 M1755.1 90.5 v2.5 M1763.5 252.2 v-2.5 M1763.5 90.5 v2.5 M1771.8 252.2 v-4 M1771.8 90.5 v4 M1780.1 252.2 v-2.5 M1780.1 90.5 v2.5 M1788.4 252.2 v-2.5 M1788.4 90.5 v2.5 M1636.4 113.8 h4 M1790.6 113.8 h-4 M1636.4 146.3 h4 M1790.6 146.3 h-4 M1636.4 178.7 h4 M1790.6 178.7 h-4 M1636.4 211.2 h4 M1790.6 211.2 h-4 M1636.4 243.6 h4 M1790.6 243.6 h-4 M1636.4 94.3 h2.5 M1790.6 94.3 h-2.5 M1636.4 100.8 h2.5 M1790.6 100.8 h-2.5 M1636.4 107.3 h2.5 M1790.6 107.3 h-2.5 M1636.4 113.8 h2.5 M1790.6 113.8 h-2.5 M1636.4 120.3 h2.5 M1790.6 120.3 h-2.5 M1636.4 126.8 h2.5 M1790.6 126.8 h-2.5 M1636.4 133.3 h2.5 M1790.6 133.3 h-2.5 M1636.4 139.8 h2.5 M1790.6 139.8 h-2.5 M1636.4 146.3 h2.5 M1790.6 146.3 h-2.5 M1636.4 152.8 h2.5 M1790.6 152.8 h-2.5 M1636.4 159.3 h2.5 M1790.6 159.3 h-2.5 M1636.4 165.8 h2.5 M1790.6 165.8 h-2.5 M1636.4 172.3 h2.5 M1790.6 172.3 h-2.5 M1636.4 178.8 h2.5 M1790.6 178.8 h-2.5 M1636.4 185.3 h2.5 M1790.6 185.3 h-2.5 M1636.4 191.8 h2.5 M1790.6 191.8 h-2.5 M1636.4 198.3 h2.5 M1790.6 198.3 h-2.5 M1636.4 204.8 h2.5 M1790.6 204.8 h-2.5 M1636.4 211.3 h2.5 M1790.6 211.3 h-2.5 M1636.4 217.8 h2.5 M1790.6 217.8 h-2.5 M1636.4 224.3 h2.5 M1790.6 224.3 h-2.5 M1636.4 230.8 h2.5 M1790.6 230.8 h-2.5 M1636.4 237.3 h2.5 M1790.6 237.3 h-2.5 M1636.4 243.8 h2.5 M1790.6 243.8 h-2.5 M1636.4 250.3 h2.5 M1790.6 250.3 h-2.5" stroke="#777" stroke-width="0.8" fill="none"/>
<path d="M1638.3 98.1 L1639.2 98.2 L1640.2 98.2 L1641.1 98.3 L1642.1 98.4 L1643.0 98.5 L1644.0 98.6 L1644.9 98.8 L1645.9 99.0 L1646.8 99.3 L1647.8 99.7 L1648.7 100.2 L1649.7 100.8 L1650.6 101.5 L1651.5 102.3 L1652.5 103.3 L1653.4 104.5 L1654.4 105.8 L1655.3 107.4 L1656.3 109.2 L1657.2 111.2 L1658.2 113.4 L1659.1 115.9 L1660.1 118.7 L1661.0 121.7 L1661.9 125.0 L1662.9 128.5 L1663.8 132.3 L1664.8 136.4 L1665.7 140.7 L1666.7 145.2 L1667.6 149.9 L1668.6 154.7 L1669.5 159.8 L1670.5 165.0 L1671.4 170.3 L1672.4 175.8 L1673.3 181.3 L1674.2 186.8 L1675.2 192.3 L1676.1 197.8 L1677.1 203.2 L1678.0 208.4 L1679.0 213.5 L1679.9 218.3 L1680.9 222.8 L1681.8 226.9 L1682.8 230.5 L1683.7 233.7 L1684.6 236.4 L1685.6 238.6 L1686.5 240.4 L1687.5 241.8 L1688.4 242.7 L1689.4 243.3 L1690.3 243.5 L1691.3 243.4 L1692.2 243.0 L1693.2 242.4 L1694.1 241.5 L1695.1 240.4 L1696.0 239.2 L1696.9 237.8 L1697.9 236.3 L1698.8 234.7 L1699.8 233.1 L1700.7 231.3 L1701.7 229.6 L1702.6 227.7 L1703.6 225.9 L1704.5 224.0 L1705.5 222.2 L1706.4 220.3 L1707.4 218.5 L1708.3 216.7 L1709.2 214.9 L1710.2 213.2 L1711.1 211.4 L1712.1 209.8 L1713.0 208.1 L1714.0 206.5 L1714.9 205.0 L1715.9 203.5 L1716.8 202.0 L1717.8 200.6 L1718.7 199.2 L1719.6 197.9 L1720.6 196.6 L1721.5 195.4 L1722.5 194.3 L1723.4 193.3 L1724.4 192.3 L1725.3 191.4 L1726.3 190.5 L1727.2 189.7 L1728.2 188.9 L1729.1 188.2 L1730.1 187.5 L1731.0 186.9 L1731.9 186.3 L1732.9 185.7 L1733.8 185.1 L1734.8 184.6 L1735.7 184.1 L1736.7 183.7 L1737.6 183.3 L1738.6 182.9 L1739.5 182.5 L1740.5 182.2 L1741.4 181.9 L1742.4 181.6 L1743.3 181.3 L1744.2 181.1 L1745.2 180.8 L1746.1 180.6 L1747.1 180.4 L1748.0 180.2 L1749.0 180.1 L1749.9 179.9 L1750.9 179.8 L1751.8 179.7 L1752.8 179.5 L1753.7 179.4 L1754.6 179.3 L1755.6 179.2 L1756.5 179.1 L1757.5 179.0 L1758.4 178.9 L1759.4 178.8 L1760.3 178.8 L1761.3 178.7 L1762.2 178.6 L1763.2 178.6 L1764.1 178.5 L1765.1 178.5 L1766.0 178.4 L1766.9 178.4 L1767.9 178.3 L1768.8 178.3 L1769.8 178.3 L1770.7 178.2 L1771.7 178.2 L1772.6 178.1 L1773.6 178.1 L1774.5 178.1 L1775.5 178.0 L1776.4 178.0 L1777.3 178.0 L1778.3 178.0 L1779.2 177.9 L1780.2 177.9 L1781.1 177.9 L1782.1 177.9 L1783.0 177.9 L1784.0 177.8 L1784.9 177.8 L1785.9 177.8 L1786.8 177.8 L1787.8 177.8 L1788.7 177.8" fill="none" stroke="#1a1aff" stroke-width="1.8"/>
<text class="ar" x="1633.9" y="120.2" font-size="18" text-anchor="end">0.10</text>
<text class="ar" x="1633.9" y="152.7" font-size="18" text-anchor="end">0.05</text>
<text class="ar" x="1633.9" y="185.1" font-size="18" text-anchor="end">0</text>
<text class="ar" x="1633.9" y="217.6" font-size="18" text-anchor="end">−0.05</text>
<text class="ar" x="1633.9" y="250.0" font-size="18" text-anchor="end">−0.10</text>
<text class="ar" x="1638.9" y="272.2" font-size="18.3" text-anchor="middle">0</text>
<text class="ar" x="1672.2" y="272.2" font-size="18.3" text-anchor="middle">2</text>
<text class="ar" x="1705.5" y="272.2" font-size="18.3" text-anchor="middle">4</text>
<text class="ar" x="1738.8" y="272.2" font-size="18.3" text-anchor="middle">6</text>
<text class="ar" x="1772.1" y="272.2" font-size="18.3" text-anchor="middle">8</text>
<text class="sr" transform="translate(1715.5,293.9) scale(1.13,1)" font-size="22.8" text-anchor="middle" letter-spacing="2.6">R/ξ</text>
<rect x="1840" y="90.2" width="157" height="163.89999999999998" fill="#fff" stroke="#000" stroke-width="2"/>
<path d="M1843.5 254.1 v-4 M1843.5 90.2 v4 M1851.8 254.1 v-2.5 M1851.8 90.2 v2.5 M1860.1 254.1 v-2.5 M1860.1 90.2 v2.5 M1868.4 254.1 v-2.5 M1868.4 90.2 v2.5 M1876.7 254.1 v-4 M1876.7 90.2 v4 M1885.0 254.1 v-2.5 M1885.0 90.2 v2.5 M1893.3 254.1 v-2.5 M1893.3 90.2 v2.5 M1901.6 254.1 v-2.5 M1901.6 90.2 v2.5 M1909.9 254.1 v-4 M1909.9 90.2 v4 M1918.2 254.1 v-2.5 M1918.2 90.2 v2.5 M1926.5 254.1 v-2.5 M1926.5 90.2 v2.5 M1934.8 254.1 v-2.5 M1934.8 90.2 v2.5 M1943.1 254.1 v-4 M1943.1 90.2 v4 M1951.4 254.1 v-2.5 M1951.4 90.2 v2.5 M1959.7 254.1 v-2.5 M1959.7 90.2 v2.5 M1968.0 254.1 v-2.5 M1968.0 90.2 v2.5 M1976.3 254.1 v-4 M1976.3 90.2 v4 M1984.6 254.1 v-2.5 M1984.6 90.2 v2.5 M1992.9 254.1 v-2.5 M1992.9 90.2 v2.5 M1840 95.8 h4 M1997 95.8 h-4 M1840 133.4 h4 M1997 133.4 h-4 M1840 171.0 h4 M1997 171.0 h-4 M1840 208.6 h4 M1997 208.6 h-4 M1840 246.2 h4 M1997 246.2 h-4 M1840 95.8 h2.5 M1997 95.8 h-2.5 M1840 103.3 h2.5 M1997 103.3 h-2.5 M1840 110.8 h2.5 M1997 110.8 h-2.5 M1840 118.4 h2.5 M1997 118.4 h-2.5 M1840 125.9 h2.5 M1997 125.9 h-2.5 M1840 133.4 h2.5 M1997 133.4 h-2.5 M1840 140.9 h2.5 M1997 140.9 h-2.5 M1840 148.4 h2.5 M1997 148.4 h-2.5 M1840 156.0 h2.5 M1997 156.0 h-2.5 M1840 163.5 h2.5 M1997 163.5 h-2.5 M1840 171.0 h2.5 M1997 171.0 h-2.5 M1840 178.5 h2.5 M1997 178.5 h-2.5 M1840 186.0 h2.5 M1997 186.0 h-2.5 M1840 193.6 h2.5 M1997 193.6 h-2.5 M1840 201.1 h2.5 M1997 201.1 h-2.5 M1840 208.6 h2.5 M1997 208.6 h-2.5 M1840 216.1 h2.5 M1997 216.1 h-2.5 M1840 223.6 h2.5 M1997 223.6 h-2.5 M1840 231.2 h2.5 M1997 231.2 h-2.5 M1840 238.7 h2.5 M1997 238.7 h-2.5 M1840 246.2 h2.5 M1997 246.2 h-2.5" stroke="#777" stroke-width="0.8" fill="none"/>
<path d="M1842.7 98.1 L1843.7 98.1 L1844.6 98.2 L1845.6 98.2 L1846.5 98.3 L1847.5 98.3 L1848.4 98.4 L1849.4 98.5 L1850.4 98.7 L1851.3 98.8 L1852.3 99.0 L1853.2 99.3 L1854.2 99.6 L1855.2 100.0 L1856.1 100.5 L1857.1 101.1 L1858.0 101.7 L1859.0 102.5 L1859.9 103.3 L1860.9 104.3 L1861.9 105.5 L1862.8 106.7 L1863.8 108.2 L1864.7 109.7 L1865.7 111.5 L1866.6 113.4 L1867.6 115.4 L1868.6 117.6 L1869.5 120.0 L1870.5 122.6 L1871.4 125.3 L1872.4 128.2 L1873.4 131.3 L1874.3 134.5 L1875.3 137.9 L1876.2 141.4 L1877.2 145.0 L1878.1 148.7 L1879.1 152.5 L1880.1 156.3 L1881.0 160.2 L1882.0 164.0 L1882.9 167.9 L1883.9 171.8 L1884.8 175.6 L1885.8 179.3 L1886.8 183.0 L1887.7 186.6 L1888.7 190.1 L1889.6 193.5 L1890.6 196.7 L1891.6 199.9 L1892.5 202.8 L1893.5 205.7 L1894.4 208.4 L1895.4 210.9 L1896.3 213.3 L1897.3 215.6 L1898.3 217.8 L1899.2 219.8 L1900.2 221.7 L1901.1 223.5 L1902.1 225.3 L1903.0 226.9 L1904.0 228.4 L1905.0 229.8 L1905.9 231.1 L1906.9 232.3 L1907.8 233.4 L1908.8 234.4 L1909.8 235.4 L1910.7 236.2 L1911.7 237.0 L1912.6 237.8 L1913.6 238.4 L1914.5 239.1 L1915.5 239.6 L1916.5 240.2 L1917.4 240.7 L1918.4 241.1 L1919.3 241.5 L1920.3 241.9 L1921.2 242.3 L1922.2 242.6 L1923.2 242.9 L1924.1 243.2 L1925.1 243.4 L1926.0 243.7 L1927.0 243.9 L1927.9 244.1 L1928.9 244.2 L1929.9 244.4 L1930.8 244.5 L1931.8 244.7 L1932.7 244.8 L1933.7 244.9 L1934.7 245.0 L1935.6 245.1 L1936.6 245.2 L1937.5 245.3 L1938.5 245.4 L1939.4 245.4 L1940.4 245.5 L1941.4 245.5 L1942.3 245.6 L1943.3 245.7 L1944.2 245.7 L1945.2 245.8 L1946.1 245.8 L1947.1 245.9 L1948.1 245.9 L1949.0 245.9 L1950.0 246.0 L1950.9 246.0 L1951.9 246.1 L1952.9 246.1 L1953.8 246.1 L1954.8 246.1 L1955.7 246.2 L1956.7 246.2 L1957.6 246.2 L1958.6 246.2 L1959.6 246.2 L1960.5 246.2 L1961.5 246.2 L1962.4 246.2 L1963.4 246.2 L1964.3 246.2 L1965.3 246.2 L1966.3 246.2 L1967.2 246.2 L1968.2 246.2 L1969.1 246.2 L1970.1 246.2 L1971.1 246.2 L1972.0 246.2 L1973.0 246.2 L1973.9 246.2 L1974.9 246.2 L1975.8 246.2 L1976.8 246.2 L1977.8 246.2 L1978.7 246.2 L1979.7 246.2 L1980.6 246.2 L1981.6 246.2 L1982.5 246.2 L1983.5 246.2 L1984.5 246.2 L1985.4 246.2 L1986.4 246.2 L1987.3 246.2 L1988.3 246.2 L1989.3 246.2 L1990.2 246.2 L1991.2 246.2 L1992.1 246.2 L1993.1 246.2 L1994.0 246.2 L1995.0 246.2" fill="none" stroke="#1a1aff" stroke-width="1.8"/>
<text class="ar" x="1837.5" y="101.5" font-size="16" text-anchor="end">2.0</text>
<text class="ar" x="1837.5" y="139.1" font-size="16" text-anchor="end">1.5</text>
<text class="ar" x="1837.5" y="176.7" font-size="16" text-anchor="end">1.0</text>
<text class="ar" x="1837.5" y="214.3" font-size="16" text-anchor="end">0.5</text>
<text class="ar" x="1837.5" y="251.9" font-size="16" text-anchor="end">0</text>
<text class="ar" x="1843.8" y="272.2" font-size="18.3" text-anchor="middle">0</text>
<text class="ar" x="1877.0" y="272.2" font-size="18.3" text-anchor="middle">2</text>
<text class="ar" x="1910.2" y="272.2" font-size="18.3" text-anchor="middle">4</text>
<text class="ar" x="1943.4" y="272.2" font-size="18.3" text-anchor="middle">6</text>
<text class="ar" x="1976.6" y="272.2" font-size="18.3" text-anchor="middle">8</text>
<text class="sr" transform="translate(1922,294.5) scale(1.13,1)" font-size="22.8" text-anchor="middle" letter-spacing="2.6">R/ξ</text>
<defs>
<radialGradient id="gc"><stop offset="0.000" stop-color="#0040ff"/><stop offset="0.132" stop-color="#0058ff"/><stop offset="0.316" stop-color="#00b0f4"/><stop offset="0.474" stop-color="#00e098"/><stop offset="0.658" stop-color="#20e820"/><stop offset="0.816" stop-color="#90f400" stop-opacity="0.85"/><stop offset="1.000" stop-color="#c8f800" stop-opacity="0"/></radialGradient>
<radialGradient id="gc1"><stop offset="0.000" stop-color="#0048ff"/><stop offset="0.130" stop-color="#0060ff"/><stop offset="0.304" stop-color="#00b0f4"/><stop offset="0.457" stop-color="#00e0a0"/><stop offset="0.630" stop-color="#18e828"/><stop offset="0.804" stop-color="#78f400" stop-opacity="0.9"/><stop offset="1.000" stop-color="#c0f800" stop-opacity="0"/></radialGradient>
<radialGradient id="a_yg"><stop offset="0.000" stop-color="#c0fa00"/><stop offset="0.595" stop-color="#c4f800"/><stop offset="0.714" stop-color="#ccf400" stop-opacity="0.72"/><stop offset="0.833" stop-color="#d8ec00" stop-opacity="0.38"/><stop offset="1.000" stop-color="#e8e000" stop-opacity="0"/></radialGradient>
<radialGradient id="a_y"><stop offset="0.000" stop-color="#e8d800"/><stop offset="0.653" stop-color="#f0cc00"/><stop offset="0.755" stop-color="#f4c400" stop-opacity="0.68"/><stop offset="0.857" stop-color="#f8b800" stop-opacity="0.33"/><stop offset="1.000" stop-color="#ffa800" stop-opacity="0"/></radialGradient>
<radialGradient id="a_o"><stop offset="0.000" stop-color="#ff9c00"/><stop offset="0.696" stop-color="#ff9800"/><stop offset="0.786" stop-color="#fc8c04" stop-opacity="0.68"/><stop offset="0.875" stop-color="#f87808" stop-opacity="0.33"/><stop offset="1.000" stop-color="#f06810" stop-opacity="0"/></radialGradient>
<radialGradient id="a_d"><stop offset="0.000" stop-color="#e66010"/><stop offset="0.706" stop-color="#e65c10"/><stop offset="0.794" stop-color="#ea5010" stop-opacity="0.62"/><stop offset="0.882" stop-color="#f03c08" stop-opacity="0.27"/><stop offset="1.000" stop-color="#ff0000" stop-opacity="0"/></radialGradient>
<radialGradient id="b_y"><stop offset="0.000" stop-color="#c8f400"/><stop offset="0.552" stop-color="#e0ec00"/><stop offset="0.690" stop-color="#f8d400"/><stop offset="0.828" stop-color="#ffb400" stop-opacity="0.8"/><stop offset="1.000" stop-color="#ffa000" stop-opacity="0"/></radialGradient>
<radialGradient id="b_o"><stop offset="0.000" stop-color="#ffa400"/><stop offset="0.738" stop-color="#ffa000"/><stop offset="0.821" stop-color="#ff9000" stop-opacity="0.9"/><stop offset="0.905" stop-color="#f07810" stop-opacity="0.45"/><stop offset="1.000" stop-color="#e86010" stop-opacity="0"/></radialGradient>
<radialGradient id="b_d"><stop offset="0.000" stop-color="#e65a10"/><stop offset="0.653" stop-color="#e65a10"/><stop offset="0.736" stop-color="#e85410" stop-opacity="0.72"/><stop offset="0.819" stop-color="#ec4810" stop-opacity="0.45"/><stop offset="0.903" stop-color="#f03808" stop-opacity="0.18"/><stop offset="1.000" stop-color="#ff0000" stop-opacity="0"/></radialGradient>
<radialGradient id="c_d"><stop offset="0.000" stop-color="#e65a10"/><stop offset="0.653" stop-color="#e65a10"/><stop offset="0.733" stop-color="#e85410" stop-opacity="0.74"/><stop offset="0.813" stop-color="#ec4810" stop-opacity="0.48"/><stop offset="0.893" stop-color="#f03808" stop-opacity="0.2"/><stop offset="1.000" stop-color="#ff0000" stop-opacity="0"/></radialGradient>
<radialGradient id="d_d"><stop offset="0.000" stop-color="#e45810"/><stop offset="0.696" stop-color="#e45810"/><stop offset="0.783" stop-color="#ea4c0c" stop-opacity="0.65"/><stop offset="0.870" stop-color="#f63404" stop-opacity="0.25"/><stop offset="1.000" stop-color="#ff0000" stop-opacity="0"/></radialGradient>
<radialGradient id="gc4"><stop offset="0.000" stop-color="#0058ff"/><stop offset="0.136" stop-color="#0068ff"/><stop offset="0.303" stop-color="#00b0f4"/><stop offset="0.455" stop-color="#00e098"/><stop offset="0.636" stop-color="#20e820"/><stop offset="0.818" stop-color="#90f400" stop-opacity="0.85"/><stop offset="1.000" stop-color="#c8f800" stop-opacity="0"/></radialGradient>
<radialGradient id="d_y"><stop offset="0.000" stop-color="#c8f400"/><stop offset="0.563" stop-color="#e0ec00"/><stop offset="0.708" stop-color="#f8d400"/><stop offset="0.833" stop-color="#ffb400" stop-opacity="0.8"/><stop offset="1.000" stop-color="#ffa000" stop-opacity="0"/></radialGradient>
<radialGradient id="d_o"><stop offset="0.000" stop-color="#ffa800"/><stop offset="0.743" stop-color="#ffa400"/><stop offset="0.829" stop-color="#ff9400" stop-opacity="0.85"/><stop offset="0.914" stop-color="#f07c10" stop-opacity="0.4"/><stop offset="1.000" stop-color="#e86010" stop-opacity="0"/></radialGradient>
</defs>
<clipPath id="vc1"><rect x="1220.3" y="368.7" width="158.9000000000001" height="165.59999999999997"/></clipPath>
<g clip-path="url(#vc1)"><rect x="1220.3" y="368.7" width="158.9000000000001" height="165.59999999999997" fill="#ff0800"/>
<circle cx="1280.2" cy="380.1" r="13.6" fill="url(#a_d)"/><circle cx="1294.2" cy="378.9" r="13.6" fill="url(#a_d)"/><circle cx="1305.8" cy="375.3" r="13.6" fill="url(#a_d)"/><circle cx="1319.0" cy="370.7" r="13.6" fill="url(#a_d)"/><circle cx="1333.1" cy="371.2" r="13.6" fill="url(#a_d)"/><circle cx="1346.1" cy="371.2" r="13.6" fill="url(#a_d)"/><circle cx="1286.0" cy="366.5" r="13.6" fill="url(#a_d)"/><circle cx="1287.1" cy="392.4" r="13.6" fill="url(#a_d)"/><circle cx="1299.6" cy="394.4" r="13.6" fill="url(#a_d)"/><circle cx="1314.0" cy="386.9" r="13.6" fill="url(#a_d)"/><circle cx="1328.1" cy="384.9" r="13.6" fill="url(#a_d)"/><circle cx="1344.3" cy="384.6" r="13.6" fill="url(#a_d)"/><circle cx="1310.8" cy="401.0" r="13.6" fill="url(#a_d)"/><circle cx="1324.2" cy="400.3" r="13.6" fill="url(#a_d)"/><circle cx="1336.9" cy="396.2" r="13.6" fill="url(#a_d)"/><circle cx="1268.0" cy="457.1" r="13.6" fill="url(#a_d)"/><circle cx="1268.7" cy="441.4" r="13.6" fill="url(#a_d)"/><circle cx="1280.5" cy="444.5" r="13.6" fill="url(#a_d)"/><circle cx="1284.2" cy="456.3" r="13.6" fill="url(#a_d)"/><circle cx="1279.5" cy="468.2" r="13.6" fill="url(#a_d)"/><circle cx="1268.4" cy="473.9" r="13.6" fill="url(#a_d)"/><circle cx="1257.0" cy="469.2" r="13.6" fill="url(#a_d)"/><circle cx="1252.1" cy="457.4" r="13.6" fill="url(#a_d)"/><circle cx="1257.1" cy="445.7" r="13.6" fill="url(#a_d)"/><circle cx="1350.0" cy="447.2" r="13.6" fill="url(#a_d)"/><circle cx="1362.4" cy="445.2" r="13.6" fill="url(#a_d)"/><circle cx="1350.8" cy="459.8" r="13.6" fill="url(#a_d)"/><circle cx="1363.4" cy="458.0" r="13.6" fill="url(#a_d)"/><circle cx="1285.6" cy="532.1" r="13.6" fill="url(#a_d)"/><circle cx="1297.3" cy="526.2" r="13.6" fill="url(#a_d)"/><circle cx="1310.1" cy="522.3" r="13.6" fill="url(#a_d)"/><circle cx="1323.9" cy="520.9" r="13.6" fill="url(#a_d)"/><circle cx="1337.6" cy="523.3" r="13.6" fill="url(#a_d)"/><circle cx="1319.0" cy="535.5" r="13.6" fill="url(#a_d)"/><circle cx="1332.7" cy="535.5" r="13.6" fill="url(#a_d)"/><circle cx="1345.5" cy="536.0" r="13.6" fill="url(#a_d)"/>
<circle cx="1280.2" cy="380.1" r="11.2" fill="url(#a_o)"/><circle cx="1294.2" cy="378.9" r="11.2" fill="url(#a_o)"/><circle cx="1305.8" cy="375.3" r="11.2" fill="url(#a_o)"/><circle cx="1319.0" cy="370.7" r="11.2" fill="url(#a_o)"/><circle cx="1333.1" cy="371.2" r="11.2" fill="url(#a_o)"/><circle cx="1346.1" cy="371.2" r="11.2" fill="url(#a_o)"/><circle cx="1286.0" cy="366.5" r="11.2" fill="url(#a_o)"/><circle cx="1287.1" cy="392.4" r="11.2" fill="url(#a_o)"/><circle cx="1299.6" cy="394.4" r="11.2" fill="url(#a_o)"/><circle cx="1314.0" cy="386.9" r="11.2" fill="url(#a_o)"/><circle cx="1328.1" cy="384.9" r="11.2" fill="url(#a_o)"/><circle cx="1344.3" cy="384.6" r="11.2" fill="url(#a_o)"/><circle cx="1310.8" cy="401.0" r="11.2" fill="url(#a_o)"/><circle cx="1324.2" cy="400.3" r="11.2" fill="url(#a_o)"/><circle cx="1336.9" cy="396.2" r="11.2" fill="url(#a_o)"/><circle cx="1268.0" cy="457.1" r="11.2" fill="url(#a_o)"/><circle cx="1268.7" cy="441.4" r="11.2" fill="url(#a_o)"/><circle cx="1280.5" cy="444.5" r="11.2" fill="url(#a_o)"/><circle cx="1284.2" cy="456.3" r="11.2" fill="url(#a_o)"/><circle cx="1279.5" cy="468.2" r="11.2" fill="url(#a_o)"/><circle cx="1268.4" cy="473.9" r="11.2" fill="url(#a_o)"/><circle cx="1257.0" cy="469.2" r="11.2" fill="url(#a_o)"/><circle cx="1252.1" cy="457.4" r="11.2" fill="url(#a_o)"/><circle cx="1257.1" cy="445.7" r="11.2" fill="url(#a_o)"/><circle cx="1350.0" cy="447.2" r="11.2" fill="url(#a_o)"/><circle cx="1362.4" cy="445.2" r="11.2" fill="url(#a_o)"/><circle cx="1350.8" cy="459.8" r="11.2" fill="url(#a_o)"/><circle cx="1363.4" cy="458.0" r="11.2" fill="url(#a_o)"/><circle cx="1285.6" cy="532.1" r="11.2" fill="url(#a_o)"/><circle cx="1297.3" cy="526.2" r="11.2" fill="url(#a_o)"/><circle cx="1310.1" cy="522.3" r="11.2" fill="url(#a_o)"/><circle cx="1323.9" cy="520.9" r="11.2" fill="url(#a_o)"/><circle cx="1337.6" cy="523.3" r="11.2" fill="url(#a_o)"/><circle cx="1319.0" cy="535.5" r="11.2" fill="url(#a_o)"/><circle cx="1332.7" cy="535.5" r="11.2" fill="url(#a_o)"/><circle cx="1345.5" cy="536.0" r="11.2" fill="url(#a_o)"/>
<circle cx="1280.2" cy="380.1" r="9.8" fill="url(#a_y)"/><circle cx="1294.2" cy="378.9" r="9.8" fill="url(#a_y)"/><circle cx="1305.8" cy="375.3" r="9.8" fill="url(#a_y)"/><circle cx="1319.0" cy="370.7" r="9.8" fill="url(#a_y)"/><circle cx="1333.1" cy="371.2" r="9.8" fill="url(#a_y)"/><circle cx="1346.1" cy="371.2" r="9.8" fill="url(#a_y)"/><circle cx="1286.0" cy="366.5" r="9.8" fill="url(#a_y)"/><circle cx="1287.1" cy="392.4" r="9.8" fill="url(#a_y)"/><circle cx="1299.6" cy="394.4" r="9.8" fill="url(#a_y)"/><circle cx="1314.0" cy="386.9" r="9.8" fill="url(#a_y)"/><circle cx="1328.1" cy="384.9" r="9.8" fill="url(#a_y)"/><circle cx="1344.3" cy="384.6" r="9.8" fill="url(#a_y)"/><circle cx="1310.8" cy="401.0" r="9.8" fill="url(#a_y)"/><circle cx="1324.2" cy="400.3" r="9.8" fill="url(#a_y)"/><circle cx="1336.9" cy="396.2" r="9.8" fill="url(#a_y)"/><circle cx="1268.0" cy="457.1" r="9.8" fill="url(#a_y)"/><circle cx="1268.7" cy="441.4" r="9.8" fill="url(#a_y)"/><circle cx="1280.5" cy="444.5" r="9.8" fill="url(#a_y)"/><circle cx="1284.2" cy="456.3" r="9.8" fill="url(#a_y)"/><circle cx="1279.5" cy="468.2" r="9.8" fill="url(#a_y)"/><circle cx="1268.4" cy="473.9" r="9.8" fill="url(#a_y)"/><circle cx="1257.0" cy="469.2" r="9.8" fill="url(#a_y)"/><circle cx="1252.1" cy="457.4" r="9.8" fill="url(#a_y)"/><circle cx="1257.1" cy="445.7" r="9.8" fill="url(#a_y)"/><circle cx="1350.0" cy="447.2" r="9.8" fill="url(#a_y)"/><circle cx="1362.4" cy="445.2" r="9.8" fill="url(#a_y)"/><circle cx="1350.8" cy="459.8" r="9.8" fill="url(#a_y)"/><circle cx="1363.4" cy="458.0" r="9.8" fill="url(#a_y)"/><circle cx="1285.6" cy="532.1" r="9.8" fill="url(#a_y)"/><circle cx="1297.3" cy="526.2" r="9.8" fill="url(#a_y)"/><circle cx="1310.1" cy="522.3" r="9.8" fill="url(#a_y)"/><circle cx="1323.9" cy="520.9" r="9.8" fill="url(#a_y)"/><circle cx="1337.6" cy="523.3" r="9.8" fill="url(#a_y)"/><circle cx="1319.0" cy="535.5" r="9.8" fill="url(#a_y)"/><circle cx="1332.7" cy="535.5" r="9.8" fill="url(#a_y)"/><circle cx="1345.5" cy="536.0" r="9.8" fill="url(#a_y)"/>
<circle cx="1280.2" cy="380.1" r="8.4" fill="url(#a_yg)"/><circle cx="1294.2" cy="378.9" r="8.4" fill="url(#a_yg)"/><circle cx="1305.8" cy="375.3" r="8.4" fill="url(#a_yg)"/><circle cx="1319.0" cy="370.7" r="8.4" fill="url(#a_yg)"/><circle cx="1333.1" cy="371.2" r="8.4" fill="url(#a_yg)"/><circle cx="1346.1" cy="371.2" r="8.4" fill="url(#a_yg)"/><circle cx="1286.0" cy="366.5" r="8.4" fill="url(#a_yg)"/><circle cx="1287.1" cy="392.4" r="8.4" fill="url(#a_yg)"/><circle cx="1299.6" cy="394.4" r="8.4" fill="url(#a_yg)"/><circle cx="1314.0" cy="386.9" r="8.4" fill="url(#a_yg)"/><circle cx="1328.1" cy="384.9" r="8.4" fill="url(#a_yg)"/><circle cx="1344.3" cy="384.6" r="8.4" fill="url(#a_yg)"/><circle cx="1310.8" cy="401.0" r="8.4" fill="url(#a_yg)"/><circle cx="1324.2" cy="400.3" r="8.4" fill="url(#a_yg)"/><circle cx="1336.9" cy="396.2" r="8.4" fill="url(#a_yg)"/><circle cx="1268.0" cy="457.1" r="8.4" fill="url(#a_yg)"/><circle cx="1268.7" cy="441.4" r="8.4" fill="url(#a_yg)"/><circle cx="1280.5" cy="444.5" r="8.4" fill="url(#a_yg)"/><circle cx="1284.2" cy="456.3" r="8.4" fill="url(#a_yg)"/><circle cx="1279.5" cy="468.2" r="8.4" fill="url(#a_yg)"/><circle cx="1268.4" cy="473.9" r="8.4" fill="url(#a_yg)"/><circle cx="1257.0" cy="469.2" r="8.4" fill="url(#a_yg)"/><circle cx="1252.1" cy="457.4" r="8.4" fill="url(#a_yg)"/><circle cx="1257.1" cy="445.7" r="8.4" fill="url(#a_yg)"/><circle cx="1350.0" cy="447.2" r="8.4" fill="url(#a_yg)"/><circle cx="1362.4" cy="445.2" r="8.4" fill="url(#a_yg)"/><circle cx="1350.8" cy="459.8" r="8.4" fill="url(#a_yg)"/><circle cx="1363.4" cy="458.0" r="8.4" fill="url(#a_yg)"/><circle cx="1285.6" cy="532.1" r="8.4" fill="url(#a_yg)"/><circle cx="1297.3" cy="526.2" r="8.4" fill="url(#a_yg)"/><circle cx="1310.1" cy="522.3" r="8.4" fill="url(#a_yg)"/><circle cx="1323.9" cy="520.9" r="8.4" fill="url(#a_yg)"/><circle cx="1337.6" cy="523.3" r="8.4" fill="url(#a_yg)"/><circle cx="1319.0" cy="535.5" r="8.4" fill="url(#a_yg)"/><circle cx="1332.7" cy="535.5" r="8.4" fill="url(#a_yg)"/><circle cx="1345.5" cy="536.0" r="8.4" fill="url(#a_yg)"/>
<circle cx="1280.2" cy="380.1" r="4.6" fill="url(#gc1)"/><circle cx="1294.2" cy="378.9" r="4.6" fill="url(#gc1)"/><circle cx="1305.8" cy="375.3" r="4.6" fill="url(#gc1)"/><circle cx="1319.0" cy="370.7" r="4.6" fill="url(#gc1)"/><circle cx="1333.1" cy="371.2" r="4.6" fill="url(#gc1)"/><circle cx="1346.1" cy="371.2" r="4.6" fill="url(#gc1)"/><circle cx="1286.0" cy="366.5" r="4.6" fill="url(#gc1)"/><circle cx="1287.1" cy="392.4" r="4.6" fill="url(#gc1)"/><circle cx="1299.6" cy="394.4" r="4.6" fill="url(#gc1)"/><circle cx="1314.0" cy="386.9" r="4.6" fill="url(#gc1)"/><circle cx="1328.1" cy="384.9" r="4.6" fill="url(#gc1)"/><circle cx="1344.3" cy="384.6" r="4.6" fill="url(#gc1)"/><circle cx="1310.8" cy="401.0" r="4.6" fill="url(#gc1)"/><circle cx="1324.2" cy="400.3" r="4.6" fill="url(#gc1)"/><circle cx="1336.9" cy="396.2" r="4.6" fill="url(#gc1)"/><circle cx="1268.0" cy="457.1" r="4.6" fill="url(#gc1)"/><circle cx="1268.7" cy="441.4" r="4.6" fill="url(#gc1)"/><circle cx="1280.5" cy="444.5" r="4.6" fill="url(#gc1)"/><circle cx="1284.2" cy="456.3" r="4.6" fill="url(#gc1)"/><circle cx="1279.5" cy="468.2" r="4.6" fill="url(#gc1)"/><circle cx="1268.4" cy="473.9" r="4.6" fill="url(#gc1)"/><circle cx="1257.0" cy="469.2" r="4.6" fill="url(#gc1)"/><circle cx="1252.1" cy="457.4" r="4.6" fill="url(#gc1)"/><circle cx="1257.1" cy="445.7" r="4.6" fill="url(#gc1)"/><circle cx="1350.0" cy="447.2" r="4.6" fill="url(#gc1)"/><circle cx="1362.4" cy="445.2" r="4.6" fill="url(#gc1)"/><circle cx="1350.8" cy="459.8" r="4.6" fill="url(#gc1)"/><circle cx="1363.4" cy="458.0" r="4.6" fill="url(#gc1)"/><circle cx="1285.6" cy="532.1" r="4.6" fill="url(#gc1)"/><circle cx="1297.3" cy="526.2" r="4.6" fill="url(#gc1)"/><circle cx="1310.1" cy="522.3" r="4.6" fill="url(#gc1)"/><circle cx="1323.9" cy="520.9" r="4.6" fill="url(#gc1)"/><circle cx="1337.6" cy="523.3" r="4.6" fill="url(#gc1)"/><circle cx="1319.0" cy="535.5" r="4.6" fill="url(#gc1)"/><circle cx="1332.7" cy="535.5" r="4.6" fill="url(#gc1)"/><circle cx="1345.5" cy="536.0" r="4.6" fill="url(#gc1)"/>
</g>
<path d="M1240.6 368.7 v4.8 M1240.6 534.3 v-4.8 M1220.3 390.1 h4.8 M1379.2 390.1 h-4.8 M1260.4 368.7 v4.8 M1260.4 534.3 v-4.8 M1220.3 410.8 h4.8 M1379.2 410.8 h-4.8 M1280.3 368.7 v4.8 M1280.3 534.3 v-4.8 M1220.3 431.5 h4.8 M1379.2 431.5 h-4.8 M1300.2 368.7 v4.8 M1300.2 534.3 v-4.8 M1220.3 452.2 h4.8 M1379.2 452.2 h-4.8 M1320.0 368.7 v4.8 M1320.0 534.3 v-4.8 M1220.3 472.9 h4.8 M1379.2 472.9 h-4.8 M1339.9 368.7 v4.8 M1339.9 534.3 v-4.8 M1220.3 493.6 h4.8 M1379.2 493.6 h-4.8 M1359.7 368.7 v4.8 M1359.7 534.3 v-4.8 M1220.3 514.3 h4.8 M1379.2 514.3 h-4.8" stroke="#301010" stroke-width="0.9" fill="none"/>
<rect x="1220.3" y="368.7" width="158.9000000000001" height="165.59999999999997" fill="none" stroke="#3a2a24" stroke-width="0.8"/>
<clipPath id="vc2"><rect x="1423.7" y="369.2" width="158.79999999999995" height="164.8"/></clipPath>
<g clip-path="url(#vc2)"><rect x="1423.7" y="369.2" width="158.79999999999995" height="164.8" fill="#ff0800"/>
<circle cx="1439.2" cy="377.7" r="14.4" fill="url(#b_d)"/><circle cx="1458.8" cy="378.9" r="14.4" fill="url(#b_d)"/><circle cx="1421.0" cy="380.8" r="14.4" fill="url(#b_d)"/><circle cx="1474.5" cy="389.5" r="14.4" fill="url(#b_d)"/><circle cx="1492.4" cy="387.7" r="14.4" fill="url(#b_d)"/><circle cx="1484.5" cy="405.8" r="14.4" fill="url(#b_d)"/><circle cx="1503.9" cy="402.3" r="14.4" fill="url(#b_d)"/><circle cx="1516.1" cy="417.4" r="14.4" fill="url(#b_d)"/><circle cx="1533.8" cy="416.2" r="14.4" fill="url(#b_d)"/><circle cx="1551.6" cy="416.9" r="14.4" fill="url(#b_d)"/><circle cx="1497.8" cy="421.8" r="14.4" fill="url(#b_d)"/><circle cx="1480.4" cy="426.5" r="14.4" fill="url(#b_d)"/><circle cx="1425.0" cy="425.7" r="14.4" fill="url(#b_d)"/><circle cx="1441.2" cy="435.4" r="14.4" fill="url(#b_d)"/><circle cx="1465.5" cy="438.6" r="14.4" fill="url(#b_d)"/><circle cx="1483.5" cy="446.2" r="14.4" fill="url(#b_d)"/><circle cx="1452.1" cy="449.6" r="14.4" fill="url(#b_d)"/><circle cx="1562.4" cy="373.4" r="14.4" fill="url(#b_d)"/><circle cx="1579.3" cy="381.5" r="14.4" fill="url(#b_d)"/><circle cx="1564.2" cy="393.1" r="14.4" fill="url(#b_d)"/><circle cx="1569.2" cy="410.8" r="14.4" fill="url(#b_d)"/><circle cx="1565.0" cy="430.5" r="14.4" fill="url(#b_d)"/><circle cx="1581.9" cy="425.4" r="14.4" fill="url(#b_d)"/><circle cx="1468.8" cy="459.3" r="14.4" fill="url(#b_d)"/><circle cx="1487.1" cy="466.2" r="14.4" fill="url(#b_d)"/><circle cx="1498.8" cy="479.8" r="14.4" fill="url(#b_d)"/><circle cx="1510.0" cy="494.2" r="14.4" fill="url(#b_d)"/><circle cx="1520.5" cy="508.9" r="14.4" fill="url(#b_d)"/><circle cx="1538.1" cy="508.9" r="14.4" fill="url(#b_d)"/><circle cx="1550.6" cy="521.5" r="14.4" fill="url(#b_d)"/><circle cx="1568.5" cy="519.1" r="14.4" fill="url(#b_d)"/><circle cx="1581.7" cy="527.2" r="14.4" fill="url(#b_d)"/><circle cx="1437.7" cy="513.5" r="14.4" fill="url(#b_d)"/><circle cx="1426.1" cy="527.7" r="14.4" fill="url(#b_d)"/><circle cx="1450.0" cy="526.8" r="14.4" fill="url(#b_d)"/><circle cx="1562.9" cy="539.0" r="14.4" fill="url(#b_d)"/>
<circle cx="1439.2" cy="377.7" r="8.4" fill="url(#b_o)"/><circle cx="1458.8" cy="378.9" r="8.4" fill="url(#b_o)"/><circle cx="1421.0" cy="380.8" r="8.4" fill="url(#b_o)"/><circle cx="1474.5" cy="389.5" r="8.4" fill="url(#b_o)"/><circle cx="1492.4" cy="387.7" r="8.4" fill="url(#b_o)"/><circle cx="1484.5" cy="405.8" r="8.4" fill="url(#b_o)"/><circle cx="1503.9" cy="402.3" r="8.4" fill="url(#b_o)"/><circle cx="1516.1" cy="417.4" r="8.4" fill="url(#b_o)"/><circle cx="1533.8" cy="416.2" r="8.4" fill="url(#b_o)"/><circle cx="1551.6" cy="416.9" r="8.4" fill="url(#b_o)"/><circle cx="1497.8" cy="421.8" r="8.4" fill="url(#b_o)"/><circle cx="1480.4" cy="426.5" r="8.4" fill="url(#b_o)"/><circle cx="1425.0" cy="425.7" r="8.4" fill="url(#b_o)"/><circle cx="1441.2" cy="435.4" r="8.4" fill="url(#b_o)"/><circle cx="1465.5" cy="438.6" r="8.4" fill="url(#b_o)"/><circle cx="1483.5" cy="446.2" r="8.4" fill="url(#b_o)"/><circle cx="1452.1" cy="449.6" r="8.4" fill="url(#b_o)"/><circle cx="1562.4" cy="373.4" r="8.4" fill="url(#b_o)"/><circle cx="1579.3" cy="381.5" r="8.4" fill="url(#b_o)"/><circle cx="1564.2" cy="393.1" r="8.4" fill="url(#b_o)"/><circle cx="1569.2" cy="410.8" r="8.4" fill="url(#b_o)"/><circle cx="1565.0" cy="430.5" r="8.4" fill="url(#b_o)"/><circle cx="1581.9" cy="425.4" r="8.4" fill="url(#b_o)"/><circle cx="1468.8" cy="459.3" r="8.4" fill="url(#b_o)"/><circle cx="1487.1" cy="466.2" r="8.4" fill="url(#b_o)"/><circle cx="1498.8" cy="479.8" r="8.4" fill="url(#b_o)"/><circle cx="1510.0" cy="494.2" r="8.4" fill="url(#b_o)"/><circle cx="1520.5" cy="508.9" r="8.4" fill="url(#b_o)"/><circle cx="1538.1" cy="508.9" r="8.4" fill="url(#b_o)"/><circle cx="1550.6" cy="521.5" r="8.4" fill="url(#b_o)"/><circle cx="1568.5" cy="519.1" r="8.4" fill="url(#b_o)"/><circle cx="1581.7" cy="527.2" r="8.4" fill="url(#b_o)"/><circle cx="1437.7" cy="513.5" r="8.4" fill="url(#b_o)"/><circle cx="1426.1" cy="527.7" r="8.4" fill="url(#b_o)"/><circle cx="1450.0" cy="526.8" r="8.4" fill="url(#b_o)"/><circle cx="1562.9" cy="539.0" r="8.4" fill="url(#b_o)"/>
<circle cx="1439.2" cy="377.7" r="5.8" fill="url(#b_y)"/><circle cx="1458.8" cy="378.9" r="5.8" fill="url(#b_y)"/><circle cx="1421.0" cy="380.8" r="5.8" fill="url(#b_y)"/><circle cx="1474.5" cy="389.5" r="5.8" fill="url(#b_y)"/><circle cx="1492.4" cy="387.7" r="5.8" fill="url(#b_y)"/><circle cx="1484.5" cy="405.8" r="5.8" fill="url(#b_y)"/><circle cx="1503.9" cy="402.3" r="5.8" fill="url(#b_y)"/><circle cx="1516.1" cy="417.4" r="5.8" fill="url(#b_y)"/><circle cx="1533.8" cy="416.2" r="5.8" fill="url(#b_y)"/><circle cx="1551.6" cy="416.9" r="5.8" fill="url(#b_y)"/><circle cx="1497.8" cy="421.8" r="5.8" fill="url(#b_y)"/><circle cx="1480.4" cy="426.5" r="5.8" fill="url(#b_y)"/><circle cx="1425.0" cy="425.7" r="5.8" fill="url(#b_y)"/><circle cx="1441.2" cy="435.4" r="5.8" fill="url(#b_y)"/><circle cx="1465.5" cy="438.6" r="5.8" fill="url(#b_y)"/><circle cx="1483.5" cy="446.2" r="5.8" fill="url(#b_y)"/><circle cx="1452.1" cy="449.6" r="5.8" fill="url(#b_y)"/><circle cx="1562.4" cy="373.4" r="5.8" fill="url(#b_y)"/><circle cx="1579.3" cy="381.5" r="5.8" fill="url(#b_y)"/><circle cx="1564.2" cy="393.1" r="5.8" fill="url(#b_y)"/><circle cx="1569.2" cy="410.8" r="5.8" fill="url(#b_y)"/><circle cx="1565.0" cy="430.5" r="5.8" fill="url(#b_y)"/><circle cx="1581.9" cy="425.4" r="5.8" fill="url(#b_y)"/><circle cx="1468.8" cy="459.3" r="5.8" fill="url(#b_y)"/><circle cx="1487.1" cy="466.2" r="5.8" fill="url(#b_y)"/><circle cx="1498.8" cy="479.8" r="5.8" fill="url(#b_y)"/><circle cx="1510.0" cy="494.2" r="5.8" fill="url(#b_y)"/><circle cx="1520.5" cy="508.9" r="5.8" fill="url(#b_y)"/><circle cx="1538.1" cy="508.9" r="5.8" fill="url(#b_y)"/><circle cx="1550.6" cy="521.5" r="5.8" fill="url(#b_y)"/><circle cx="1568.5" cy="519.1" r="5.8" fill="url(#b_y)"/><circle cx="1581.7" cy="527.2" r="5.8" fill="url(#b_y)"/><circle cx="1437.7" cy="513.5" r="5.8" fill="url(#b_y)"/><circle cx="1426.1" cy="527.7" r="5.8" fill="url(#b_y)"/><circle cx="1450.0" cy="526.8" r="5.8" fill="url(#b_y)"/><circle cx="1562.9" cy="539.0" r="5.8" fill="url(#b_y)"/>
<circle cx="1439.2" cy="377.7" r="3.8" fill="url(#gc)"/><circle cx="1458.8" cy="378.9" r="3.8" fill="url(#gc)"/><circle cx="1421.0" cy="380.8" r="3.8" fill="url(#gc)"/><circle cx="1474.5" cy="389.5" r="3.8" fill="url(#gc)"/><circle cx="1492.4" cy="387.7" r="3.8" fill="url(#gc)"/><circle cx="1484.5" cy="405.8" r="3.8" fill="url(#gc)"/><circle cx="1503.9" cy="402.3" r="3.8" fill="url(#gc)"/><circle cx="1516.1" cy="417.4" r="3.8" fill="url(#gc)"/><circle cx="1533.8" cy="416.2" r="3.8" fill="url(#gc)"/><circle cx="1551.6" cy="416.9" r="3.8" fill="url(#gc)"/><circle cx="1497.8" cy="421.8" r="3.8" fill="url(#gc)"/><circle cx="1480.4" cy="426.5" r="3.8" fill="url(#gc)"/><circle cx="1425.0" cy="425.7" r="3.8" fill="url(#gc)"/><circle cx="1441.2" cy="435.4" r="3.8" fill="url(#gc)"/><circle cx="1465.5" cy="438.6" r="3.8" fill="url(#gc)"/><circle cx="1483.5" cy="446.2" r="3.8" fill="url(#gc)"/><circle cx="1452.1" cy="449.6" r="3.8" fill="url(#gc)"/><circle cx="1562.4" cy="373.4" r="3.8" fill="url(#gc)"/><circle cx="1579.3" cy="381.5" r="3.8" fill="url(#gc)"/><circle cx="1564.2" cy="393.1" r="3.8" fill="url(#gc)"/><circle cx="1569.2" cy="410.8" r="3.8" fill="url(#gc)"/><circle cx="1565.0" cy="430.5" r="3.8" fill="url(#gc)"/><circle cx="1581.9" cy="425.4" r="3.8" fill="url(#gc)"/><circle cx="1468.8" cy="459.3" r="3.8" fill="url(#gc)"/><circle cx="1487.1" cy="466.2" r="3.8" fill="url(#gc)"/><circle cx="1498.8" cy="479.8" r="3.8" fill="url(#gc)"/><circle cx="1510.0" cy="494.2" r="3.8" fill="url(#gc)"/><circle cx="1520.5" cy="508.9" r="3.8" fill="url(#gc)"/><circle cx="1538.1" cy="508.9" r="3.8" fill="url(#gc)"/><circle cx="1550.6" cy="521.5" r="3.8" fill="url(#gc)"/><circle cx="1568.5" cy="519.1" r="3.8" fill="url(#gc)"/><circle cx="1581.7" cy="527.2" r="3.8" fill="url(#gc)"/><circle cx="1437.7" cy="513.5" r="3.8" fill="url(#gc)"/><circle cx="1426.1" cy="527.7" r="3.8" fill="url(#gc)"/><circle cx="1450.0" cy="526.8" r="3.8" fill="url(#gc)"/><circle cx="1562.9" cy="539.0" r="3.8" fill="url(#gc)"/>
</g>
<path d="M1444.0 369.2 v4.8 M1444.0 534 v-4.8 M1423.7 390.5 h4.8 M1582.5 390.5 h-4.8 M1463.8 369.2 v4.8 M1463.8 534 v-4.8 M1423.7 411.1 h4.8 M1582.5 411.1 h-4.8 M1483.7 369.2 v4.8 M1483.7 534 v-4.8 M1423.7 431.7 h4.8 M1582.5 431.7 h-4.8 M1503.5 369.2 v4.8 M1503.5 534 v-4.8 M1423.7 452.3 h4.8 M1582.5 452.3 h-4.8 M1523.4 369.2 v4.8 M1523.4 534 v-4.8 M1423.7 472.9 h4.8 M1582.5 472.9 h-4.8 M1543.2 369.2 v4.8 M1543.2 534 v-4.8 M1423.7 493.5 h4.8 M1582.5 493.5 h-4.8 M1563.1 369.2 v4.8 M1563.1 534 v-4.8 M1423.7 514.1 h4.8 M1582.5 514.1 h-4.8" stroke="#301010" stroke-width="0.9" fill="none"/>
<rect x="1423.7" y="369.2" width="158.79999999999995" height="164.8" fill="none" stroke="#3a2a24" stroke-width="0.8"/>
<clipPath id="vc3"><rect x="1632.9" y="368" width="158.69999999999982" height="165.20000000000005"/></clipPath>
<g clip-path="url(#vc3)"><rect x="1632.9" y="368" width="158.69999999999982" height="165.20000000000005" fill="#ff0800"/>
<circle cx="1638.8" cy="375.1" r="15" fill="url(#c_d)"/><circle cx="1658.8" cy="364.5" r="15" fill="url(#c_d)"/><circle cx="1677.6" cy="377.2" r="15" fill="url(#c_d)"/><circle cx="1701.9" cy="382.0" r="15" fill="url(#c_d)"/><circle cx="1655.8" cy="388.8" r="15" fill="url(#c_d)"/><circle cx="1634.2" cy="398.0" r="15" fill="url(#c_d)"/><circle cx="1687.8" cy="397.4" r="15" fill="url(#c_d)"/><circle cx="1668.8" cy="405.7" r="15" fill="url(#c_d)"/><circle cx="1706.2" cy="408.8" r="15" fill="url(#c_d)"/><circle cx="1648.4" cy="412.8" r="15" fill="url(#c_d)"/><circle cx="1686.8" cy="420.8" r="15" fill="url(#c_d)"/><circle cx="1725.8" cy="419.5" r="15" fill="url(#c_d)"/><circle cx="1665.8" cy="427.7" r="15" fill="url(#c_d)"/><circle cx="1707.6" cy="431.2" r="15" fill="url(#c_d)"/><circle cx="1746.5" cy="426.5" r="15" fill="url(#c_d)"/><circle cx="1645.8" cy="435.8" r="15" fill="url(#c_d)"/><circle cx="1727.9" cy="441.4" r="15" fill="url(#c_d)"/><circle cx="1766.2" cy="413.8" r="15" fill="url(#c_d)"/><circle cx="1786.2" cy="422.3" r="15" fill="url(#c_d)"/><circle cx="1766.8" cy="435.7" r="15" fill="url(#c_d)"/><circle cx="1790.4" cy="398.0" r="15" fill="url(#c_d)"/><circle cx="1796.0" cy="375.0" r="15" fill="url(#c_d)"/><circle cx="1748.8" cy="448.7" r="15" fill="url(#c_d)"/><circle cx="1785.3" cy="446.2" r="15" fill="url(#c_d)"/><circle cx="1628.0" cy="422.3" r="15" fill="url(#c_d)"/><circle cx="1732.2" cy="462.7" r="15" fill="url(#c_d)"/><circle cx="1645.5" cy="459.3" r="15" fill="url(#c_d)"/><circle cx="1657.5" cy="479.3" r="15" fill="url(#c_d)"/><circle cx="1640.4" cy="492.6" r="15" fill="url(#c_d)"/><circle cx="1675.1" cy="492.1" r="15" fill="url(#c_d)"/><circle cx="1658.3" cy="504.6" r="15" fill="url(#c_d)"/><circle cx="1693.0" cy="503.6" r="15" fill="url(#c_d)"/><circle cx="1640.9" cy="517.3" r="15" fill="url(#c_d)"/><circle cx="1675.8" cy="516.9" r="15" fill="url(#c_d)"/><circle cx="1658.7" cy="530.1" r="15" fill="url(#c_d)"/><circle cx="1694.6" cy="526.0" r="15" fill="url(#c_d)"/>
<circle cx="1638.8" cy="375.1" r="8.4" fill="url(#b_o)"/><circle cx="1658.8" cy="364.5" r="8.4" fill="url(#b_o)"/><circle cx="1677.6" cy="377.2" r="8.4" fill="url(#b_o)"/><circle cx="1701.9" cy="382.0" r="8.4" fill="url(#b_o)"/><circle cx="1655.8" cy="388.8" r="8.4" fill="url(#b_o)"/><circle cx="1634.2" cy="398.0" r="8.4" fill="url(#b_o)"/><circle cx="1687.8" cy="397.4" r="8.4" fill="url(#b_o)"/><circle cx="1668.8" cy="405.7" r="8.4" fill="url(#b_o)"/><circle cx="1706.2" cy="408.8" r="8.4" fill="url(#b_o)"/><circle cx="1648.4" cy="412.8" r="8.4" fill="url(#b_o)"/><circle cx="1686.8" cy="420.8" r="8.4" fill="url(#b_o)"/><circle cx="1725.8" cy="419.5" r="8.4" fill="url(#b_o)"/><circle cx="1665.8" cy="427.7" r="8.4" fill="url(#b_o)"/><circle cx="1707.6" cy="431.2" r="8.4" fill="url(#b_o)"/><circle cx="1746.5" cy="426.5" r="8.4" fill="url(#b_o)"/><circle cx="1645.8" cy="435.8" r="8.4" fill="url(#b_o)"/><circle cx="1727.9" cy="441.4" r="8.4" fill="url(#b_o)"/><circle cx="1766.2" cy="413.8" r="8.4" fill="url(#b_o)"/><circle cx="1786.2" cy="422.3" r="8.4" fill="url(#b_o)"/><circle cx="1766.8" cy="435.7" r="8.4" fill="url(#b_o)"/><circle cx="1790.4" cy="398.0" r="8.4" fill="url(#b_o)"/><circle cx="1796.0" cy="375.0" r="8.4" fill="url(#b_o)"/><circle cx="1748.8" cy="448.7" r="8.4" fill="url(#b_o)"/><circle cx="1785.3" cy="446.2" r="8.4" fill="url(#b_o)"/><circle cx="1628.0" cy="422.3" r="8.4" fill="url(#b_o)"/><circle cx="1732.2" cy="462.7" r="8.4" fill="url(#b_o)"/><circle cx="1645.5" cy="459.3" r="8.4" fill="url(#b_o)"/><circle cx="1657.5" cy="479.3" r="8.4" fill="url(#b_o)"/><circle cx="1640.4" cy="492.6" r="8.4" fill="url(#b_o)"/><circle cx="1675.1" cy="492.1" r="8.4" fill="url(#b_o)"/><circle cx="1658.3" cy="504.6" r="8.4" fill="url(#b_o)"/><circle cx="1693.0" cy="503.6" r="8.4" fill="url(#b_o)"/><circle cx="1640.9" cy="517.3" r="8.4" fill="url(#b_o)"/><circle cx="1675.8" cy="516.9" r="8.4" fill="url(#b_o)"/><circle cx="1658.7" cy="530.1" r="8.4" fill="url(#b_o)"/><circle cx="1694.6" cy="526.0" r="8.4" fill="url(#b_o)"/>
<circle cx="1638.8" cy="375.1" r="5.8" fill="url(#b_y)"/><circle cx="1658.8" cy="364.5" r="5.8" fill="url(#b_y)"/><circle cx="1677.6" cy="377.2" r="5.8" fill="url(#b_y)"/><circle cx="1701.9" cy="382.0" r="5.8" fill="url(#b_y)"/><circle cx="1655.8" cy="388.8" r="5.8" fill="url(#b_y)"/><circle cx="1634.2" cy="398.0" r="5.8" fill="url(#b_y)"/><circle cx="1687.8" cy="397.4" r="5.8" fill="url(#b_y)"/><circle cx="1668.8" cy="405.7" r="5.8" fill="url(#b_y)"/><circle cx="1706.2" cy="408.8" r="5.8" fill="url(#b_y)"/><circle cx="1648.4" cy="412.8" r="5.8" fill="url(#b_y)"/><circle cx="1686.8" cy="420.8" r="5.8" fill="url(#b_y)"/><circle cx="1725.8" cy="419.5" r="5.8" fill="url(#b_y)"/><circle cx="1665.8" cy="427.7" r="5.8" fill="url(#b_y)"/><circle cx="1707.6" cy="431.2" r="5.8" fill="url(#b_y)"/><circle cx="1746.5" cy="426.5" r="5.8" fill="url(#b_y)"/><circle cx="1645.8" cy="435.8" r="5.8" fill="url(#b_y)"/><circle cx="1727.9" cy="441.4" r="5.8" fill="url(#b_y)"/><circle cx="1766.2" cy="413.8" r="5.8" fill="url(#b_y)"/><circle cx="1786.2" cy="422.3" r="5.8" fill="url(#b_y)"/><circle cx="1766.8" cy="435.7" r="5.8" fill="url(#b_y)"/><circle cx="1790.4" cy="398.0" r="5.8" fill="url(#b_y)"/><circle cx="1796.0" cy="375.0" r="5.8" fill="url(#b_y)"/><circle cx="1748.8" cy="448.7" r="5.8" fill="url(#b_y)"/><circle cx="1785.3" cy="446.2" r="5.8" fill="url(#b_y)"/><circle cx="1628.0" cy="422.3" r="5.8" fill="url(#b_y)"/><circle cx="1732.2" cy="462.7" r="5.8" fill="url(#b_y)"/><circle cx="1645.5" cy="459.3" r="5.8" fill="url(#b_y)"/><circle cx="1657.5" cy="479.3" r="5.8" fill="url(#b_y)"/><circle cx="1640.4" cy="492.6" r="5.8" fill="url(#b_y)"/><circle cx="1675.1" cy="492.1" r="5.8" fill="url(#b_y)"/><circle cx="1658.3" cy="504.6" r="5.8" fill="url(#b_y)"/><circle cx="1693.0" cy="503.6" r="5.8" fill="url(#b_y)"/><circle cx="1640.9" cy="517.3" r="5.8" fill="url(#b_y)"/><circle cx="1675.8" cy="516.9" r="5.8" fill="url(#b_y)"/><circle cx="1658.7" cy="530.1" r="5.8" fill="url(#b_y)"/><circle cx="1694.6" cy="526.0" r="5.8" fill="url(#b_y)"/>
<circle cx="1638.8" cy="375.1" r="3.8" fill="url(#gc)"/><circle cx="1658.8" cy="364.5" r="3.8" fill="url(#gc)"/><circle cx="1677.6" cy="377.2" r="3.8" fill="url(#gc)"/><circle cx="1701.9" cy="382.0" r="3.8" fill="url(#gc)"/><circle cx="1655.8" cy="388.8" r="3.8" fill="url(#gc)"/><circle cx="1634.2" cy="398.0" r="3.8" fill="url(#gc)"/><circle cx="1687.8" cy="397.4" r="3.8" fill="url(#gc)"/><circle cx="1668.8" cy="405.7" r="3.8" fill="url(#gc)"/><circle cx="1706.2" cy="408.8" r="3.8" fill="url(#gc)"/><circle cx="1648.4" cy="412.8" r="3.8" fill="url(#gc)"/><circle cx="1686.8" cy="420.8" r="3.8" fill="url(#gc)"/><circle cx="1725.8" cy="419.5" r="3.8" fill="url(#gc)"/><circle cx="1665.8" cy="427.7" r="3.8" fill="url(#gc)"/><circle cx="1707.6" cy="431.2" r="3.8" fill="url(#gc)"/><circle cx="1746.5" cy="426.5" r="3.8" fill="url(#gc)"/><circle cx="1645.8" cy="435.8" r="3.8" fill="url(#gc)"/><circle cx="1727.9" cy="441.4" r="3.8" fill="url(#gc)"/><circle cx="1766.2" cy="413.8" r="3.8" fill="url(#gc)"/><circle cx="1786.2" cy="422.3" r="3.8" fill="url(#gc)"/><circle cx="1766.8" cy="435.7" r="3.8" fill="url(#gc)"/><circle cx="1790.4" cy="398.0" r="3.8" fill="url(#gc)"/><circle cx="1796.0" cy="375.0" r="3.8" fill="url(#gc)"/><circle cx="1748.8" cy="448.7" r="3.8" fill="url(#gc)"/><circle cx="1785.3" cy="446.2" r="3.8" fill="url(#gc)"/><circle cx="1628.0" cy="422.3" r="3.8" fill="url(#gc)"/><circle cx="1732.2" cy="462.7" r="3.8" fill="url(#gc)"/><circle cx="1645.5" cy="459.3" r="3.8" fill="url(#gc)"/><circle cx="1657.5" cy="479.3" r="3.8" fill="url(#gc)"/><circle cx="1640.4" cy="492.6" r="3.8" fill="url(#gc)"/><circle cx="1675.1" cy="492.1" r="3.8" fill="url(#gc)"/><circle cx="1658.3" cy="504.6" r="3.8" fill="url(#gc)"/><circle cx="1693.0" cy="503.6" r="3.8" fill="url(#gc)"/><circle cx="1640.9" cy="517.3" r="3.8" fill="url(#gc)"/><circle cx="1675.8" cy="516.9" r="3.8" fill="url(#gc)"/><circle cx="1658.7" cy="530.1" r="3.8" fill="url(#gc)"/><circle cx="1694.6" cy="526.0" r="3.8" fill="url(#gc)"/>
</g>
<path d="M1653.1 368 v4.8 M1653.1 533.2 v-4.8 M1632.9 389.3 h4.8 M1791.6 389.3 h-4.8 M1673.0 368 v4.8 M1673.0 533.2 v-4.8 M1632.9 410.0 h4.8 M1791.6 410.0 h-4.8 M1692.8 368 v4.8 M1692.8 533.2 v-4.8 M1632.9 430.7 h4.8 M1791.6 430.7 h-4.8 M1712.7 368 v4.8 M1712.7 533.2 v-4.8 M1632.9 451.3 h4.8 M1791.6 451.3 h-4.8 M1732.5 368 v4.8 M1732.5 533.2 v-4.8 M1632.9 471.9 h4.8 M1791.6 471.9 h-4.8 M1752.3 368 v4.8 M1752.3 533.2 v-4.8 M1632.9 492.6 h4.8 M1791.6 492.6 h-4.8 M1772.2 368 v4.8 M1772.2 533.2 v-4.8 M1632.9 513.3 h4.8 M1791.6 513.3 h-4.8" stroke="#301010" stroke-width="0.9" fill="none"/>
<rect x="1632.9" y="368" width="158.69999999999982" height="165.20000000000005" fill="none" stroke="#3a2a24" stroke-width="0.8"/>
<clipPath id="vc4"><rect x="1839.9" y="367.3" width="160.0999999999999" height="165.2"/></clipPath>
<g clip-path="url(#vc4)"><rect x="1839.9" y="367.3" width="160.0999999999999" height="165.2" fill="#ff0800"/>
<circle cx="1848.2" cy="383.1" r="11.5" fill="url(#d_d)"/><circle cx="1888.0" cy="370.5" r="11.5" fill="url(#d_d)"/><circle cx="1922.3" cy="363.5" r="11.5" fill="url(#d_d)"/><circle cx="1909.2" cy="389.7" r="11.5" fill="url(#d_d)"/><circle cx="1940.3" cy="384.6" r="11.5" fill="url(#d_d)"/><circle cx="1971.1" cy="381.2" r="11.5" fill="url(#d_d)"/><circle cx="1876.2" cy="396.6" r="11.5" fill="url(#d_d)"/><circle cx="1852.3" cy="412.8" r="11.5" fill="url(#d_d)"/><circle cx="1896.2" cy="418.5" r="11.5" fill="url(#d_d)"/><circle cx="1925.4" cy="414.2" r="11.5" fill="url(#d_d)"/><circle cx="1954.6" cy="410.0" r="11.5" fill="url(#d_d)"/><circle cx="1983.5" cy="408.5" r="11.5" fill="url(#d_d)"/><circle cx="1871.2" cy="433.3" r="11.5" fill="url(#d_d)"/><circle cx="1841.0" cy="440.3" r="11.5" fill="url(#d_d)"/><circle cx="1911.2" cy="444.2" r="11.5" fill="url(#d_d)"/><circle cx="1940.9" cy="439.2" r="11.5" fill="url(#d_d)"/><circle cx="1970.6" cy="435.9" r="11.5" fill="url(#d_d)"/><circle cx="1996.4" cy="440.3" r="11.5" fill="url(#d_d)"/><circle cx="1884.9" cy="458.2" r="11.5" fill="url(#d_d)"/><circle cx="1857.3" cy="464.8" r="11.5" fill="url(#d_d)"/><circle cx="1930.3" cy="467.6" r="11.5" fill="url(#d_d)"/><circle cx="1959.4" cy="463.5" r="11.5" fill="url(#d_d)"/><circle cx="1987.1" cy="468.9" r="11.5" fill="url(#d_d)"/><circle cx="1904.3" cy="478.9" r="11.5" fill="url(#d_d)"/><circle cx="1875.5" cy="489.8" r="11.5" fill="url(#d_d)"/><circle cx="1847.3" cy="494.9" r="11.5" fill="url(#d_d)"/><circle cx="1950.8" cy="490.6" r="11.5" fill="url(#d_d)"/><circle cx="1977.3" cy="497.2" r="11.5" fill="url(#d_d)"/><circle cx="1925.0" cy="498.7" r="11.5" fill="url(#d_d)"/><circle cx="1897.4" cy="507.7" r="11.5" fill="url(#d_d)"/><circle cx="1863.5" cy="520.3" r="11.5" fill="url(#d_d)"/><circle cx="1921.3" cy="527.3" r="11.5" fill="url(#d_d)"/><circle cx="1953.8" cy="520.3" r="11.5" fill="url(#d_d)"/><circle cx="1990.5" cy="522.8" r="11.5" fill="url(#d_d)"/><circle cx="1888.3" cy="537.5" r="11.5" fill="url(#d_d)"/>
<circle cx="1848.2" cy="383.1" r="7.0" fill="url(#d_o)"/><circle cx="1888.0" cy="370.5" r="7.0" fill="url(#d_o)"/><circle cx="1922.3" cy="363.5" r="7.0" fill="url(#d_o)"/><circle cx="1909.2" cy="389.7" r="7.0" fill="url(#d_o)"/><circle cx="1940.3" cy="384.6" r="7.0" fill="url(#d_o)"/><circle cx="1971.1" cy="381.2" r="7.0" fill="url(#d_o)"/><circle cx="1876.2" cy="396.6" r="7.0" fill="url(#d_o)"/><circle cx="1852.3" cy="412.8" r="7.0" fill="url(#d_o)"/><circle cx="1896.2" cy="418.5" r="7.0" fill="url(#d_o)"/><circle cx="1925.4" cy="414.2" r="7.0" fill="url(#d_o)"/><circle cx="1954.6" cy="410.0" r="7.0" fill="url(#d_o)"/><circle cx="1983.5" cy="408.5" r="7.0" fill="url(#d_o)"/><circle cx="1871.2" cy="433.3" r="7.0" fill="url(#d_o)"/><circle cx="1841.0" cy="440.3" r="7.0" fill="url(#d_o)"/><circle cx="1911.2" cy="444.2" r="7.0" fill="url(#d_o)"/><circle cx="1940.9" cy="439.2" r="7.0" fill="url(#d_o)"/><circle cx="1970.6" cy="435.9" r="7.0" fill="url(#d_o)"/><circle cx="1996.4" cy="440.3" r="7.0" fill="url(#d_o)"/><circle cx="1884.9" cy="458.2" r="7.0" fill="url(#d_o)"/><circle cx="1857.3" cy="464.8" r="7.0" fill="url(#d_o)"/><circle cx="1930.3" cy="467.6" r="7.0" fill="url(#d_o)"/><circle cx="1959.4" cy="463.5" r="7.0" fill="url(#d_o)"/><circle cx="1987.1" cy="468.9" r="7.0" fill="url(#d_o)"/><circle cx="1904.3" cy="478.9" r="7.0" fill="url(#d_o)"/><circle cx="1875.5" cy="489.8" r="7.0" fill="url(#d_o)"/><circle cx="1847.3" cy="494.9" r="7.0" fill="url(#d_o)"/><circle cx="1950.8" cy="490.6" r="7.0" fill="url(#d_o)"/><circle cx="1977.3" cy="497.2" r="7.0" fill="url(#d_o)"/><circle cx="1925.0" cy="498.7" r="7.0" fill="url(#d_o)"/><circle cx="1897.4" cy="507.7" r="7.0" fill="url(#d_o)"/><circle cx="1863.5" cy="520.3" r="7.0" fill="url(#d_o)"/><circle cx="1921.3" cy="527.3" r="7.0" fill="url(#d_o)"/><circle cx="1953.8" cy="520.3" r="7.0" fill="url(#d_o)"/><circle cx="1990.5" cy="522.8" r="7.0" fill="url(#d_o)"/><circle cx="1888.3" cy="537.5" r="7.0" fill="url(#d_o)"/>
<circle cx="1848.2" cy="383.1" r="4.8" fill="url(#d_y)"/><circle cx="1888.0" cy="370.5" r="4.8" fill="url(#d_y)"/><circle cx="1922.3" cy="363.5" r="4.8" fill="url(#d_y)"/><circle cx="1909.2" cy="389.7" r="4.8" fill="url(#d_y)"/><circle cx="1940.3" cy="384.6" r="4.8" fill="url(#d_y)"/><circle cx="1971.1" cy="381.2" r="4.8" fill="url(#d_y)"/><circle cx="1876.2" cy="396.6" r="4.8" fill="url(#d_y)"/><circle cx="1852.3" cy="412.8" r="4.8" fill="url(#d_y)"/><circle cx="1896.2" cy="418.5" r="4.8" fill="url(#d_y)"/><circle cx="1925.4" cy="414.2" r="4.8" fill="url(#d_y)"/><circle cx="1954.6" cy="410.0" r="4.8" fill="url(#d_y)"/><circle cx="1983.5" cy="408.5" r="4.8" fill="url(#d_y)"/><circle cx="1871.2" cy="433.3" r="4.8" fill="url(#d_y)"/><circle cx="1841.0" cy="440.3" r="4.8" fill="url(#d_y)"/><circle cx="1911.2" cy="444.2" r="4.8" fill="url(#d_y)"/><circle cx="1940.9" cy="439.2" r="4.8" fill="url(#d_y)"/><circle cx="1970.6" cy="435.9" r="4.8" fill="url(#d_y)"/><circle cx="1996.4" cy="440.3" r="4.8" fill="url(#d_y)"/><circle cx="1884.9" cy="458.2" r="4.8" fill="url(#d_y)"/><circle cx="1857.3" cy="464.8" r="4.8" fill="url(#d_y)"/><circle cx="1930.3" cy="467.6" r="4.8" fill="url(#d_y)"/><circle cx="1959.4" cy="463.5" r="4.8" fill="url(#d_y)"/><circle cx="1987.1" cy="468.9" r="4.8" fill="url(#d_y)"/><circle cx="1904.3" cy="478.9" r="4.8" fill="url(#d_y)"/><circle cx="1875.5" cy="489.8" r="4.8" fill="url(#d_y)"/><circle cx="1847.3" cy="494.9" r="4.8" fill="url(#d_y)"/><circle cx="1950.8" cy="490.6" r="4.8" fill="url(#d_y)"/><circle cx="1977.3" cy="497.2" r="4.8" fill="url(#d_y)"/><circle cx="1925.0" cy="498.7" r="4.8" fill="url(#d_y)"/><circle cx="1897.4" cy="507.7" r="4.8" fill="url(#d_y)"/><circle cx="1863.5" cy="520.3" r="4.8" fill="url(#d_y)"/><circle cx="1921.3" cy="527.3" r="4.8" fill="url(#d_y)"/><circle cx="1953.8" cy="520.3" r="4.8" fill="url(#d_y)"/><circle cx="1990.5" cy="522.8" r="4.8" fill="url(#d_y)"/><circle cx="1888.3" cy="537.5" r="4.8" fill="url(#d_y)"/>
<circle cx="1848.2" cy="383.1" r="3.3" fill="url(#gc4)"/><circle cx="1888.0" cy="370.5" r="3.3" fill="url(#gc4)"/><circle cx="1922.3" cy="363.5" r="3.3" fill="url(#gc4)"/><circle cx="1909.2" cy="389.7" r="3.3" fill="url(#gc4)"/><circle cx="1940.3" cy="384.6" r="3.3" fill="url(#gc4)"/><circle cx="1971.1" cy="381.2" r="3.3" fill="url(#gc4)"/><circle cx="1876.2" cy="396.6" r="3.3" fill="url(#gc4)"/><circle cx="1852.3" cy="412.8" r="3.3" fill="url(#gc4)"/><circle cx="1896.2" cy="418.5" r="3.3" fill="url(#gc4)"/><circle cx="1925.4" cy="414.2" r="3.3" fill="url(#gc4)"/><circle cx="1954.6" cy="410.0" r="3.3" fill="url(#gc4)"/><circle cx="1983.5" cy="408.5" r="3.3" fill="url(#gc4)"/><circle cx="1871.2" cy="433.3" r="3.3" fill="url(#gc4)"/><circle cx="1841.0" cy="440.3" r="3.3" fill="url(#gc4)"/><circle cx="1911.2" cy="444.2" r="3.3" fill="url(#gc4)"/><circle cx="1940.9" cy="439.2" r="3.3" fill="url(#gc4)"/><circle cx="1970.6" cy="435.9" r="3.3" fill="url(#gc4)"/><circle cx="1996.4" cy="440.3" r="3.3" fill="url(#gc4)"/><circle cx="1884.9" cy="458.2" r="3.3" fill="url(#gc4)"/><circle cx="1857.3" cy="464.8" r="3.3" fill="url(#gc4)"/><circle cx="1930.3" cy="467.6" r="3.3" fill="url(#gc4)"/><circle cx="1959.4" cy="463.5" r="3.3" fill="url(#gc4)"/><circle cx="1987.1" cy="468.9" r="3.3" fill="url(#gc4)"/><circle cx="1904.3" cy="478.9" r="3.3" fill="url(#gc4)"/><circle cx="1875.5" cy="489.8" r="3.3" fill="url(#gc4)"/><circle cx="1847.3" cy="494.9" r="3.3" fill="url(#gc4)"/><circle cx="1950.8" cy="490.6" r="3.3" fill="url(#gc4)"/><circle cx="1977.3" cy="497.2" r="3.3" fill="url(#gc4)"/><circle cx="1925.0" cy="498.7" r="3.3" fill="url(#gc4)"/><circle cx="1897.4" cy="507.7" r="3.3" fill="url(#gc4)"/><circle cx="1863.5" cy="520.3" r="3.3" fill="url(#gc4)"/><circle cx="1921.3" cy="527.3" r="3.3" fill="url(#gc4)"/><circle cx="1953.8" cy="520.3" r="3.3" fill="url(#gc4)"/><circle cx="1990.5" cy="522.8" r="3.3" fill="url(#gc4)"/><circle cx="1888.3" cy="537.5" r="3.3" fill="url(#gc4)"/>
</g>
<path d="M1860.3 367.3 v4.8 M1860.3 532.5 v-4.8 M1839.9 388.6 h4.8 M1880.3 367.3 v4.8 M1880.3 532.5 v-4.8 M1839.9 409.3 h4.8 M1900.3 367.3 v4.8 M1900.3 532.5 v-4.8 M1839.9 429.9 h4.8 M1920.3 367.3 v4.8 M1920.3 532.5 v-4.8 M1839.9 450.6 h4.8 M1940.3 367.3 v4.8 M1940.3 532.5 v-4.8 M1839.9 471.2 h4.8 M1960.3 367.3 v4.8 M1960.3 532.5 v-4.8 M1839.9 491.9 h4.8 M1980.3 367.3 v4.8 M1980.3 532.5 v-4.8 M1839.9 512.6 h4.8" stroke="#301010" stroke-width="0.9" fill="none"/>
<rect x="1839.9" y="367.3" width="160.0999999999999" height="165.2" fill="none" stroke="#3a2a24" stroke-width="0.8"/>
</svg></body></html>
